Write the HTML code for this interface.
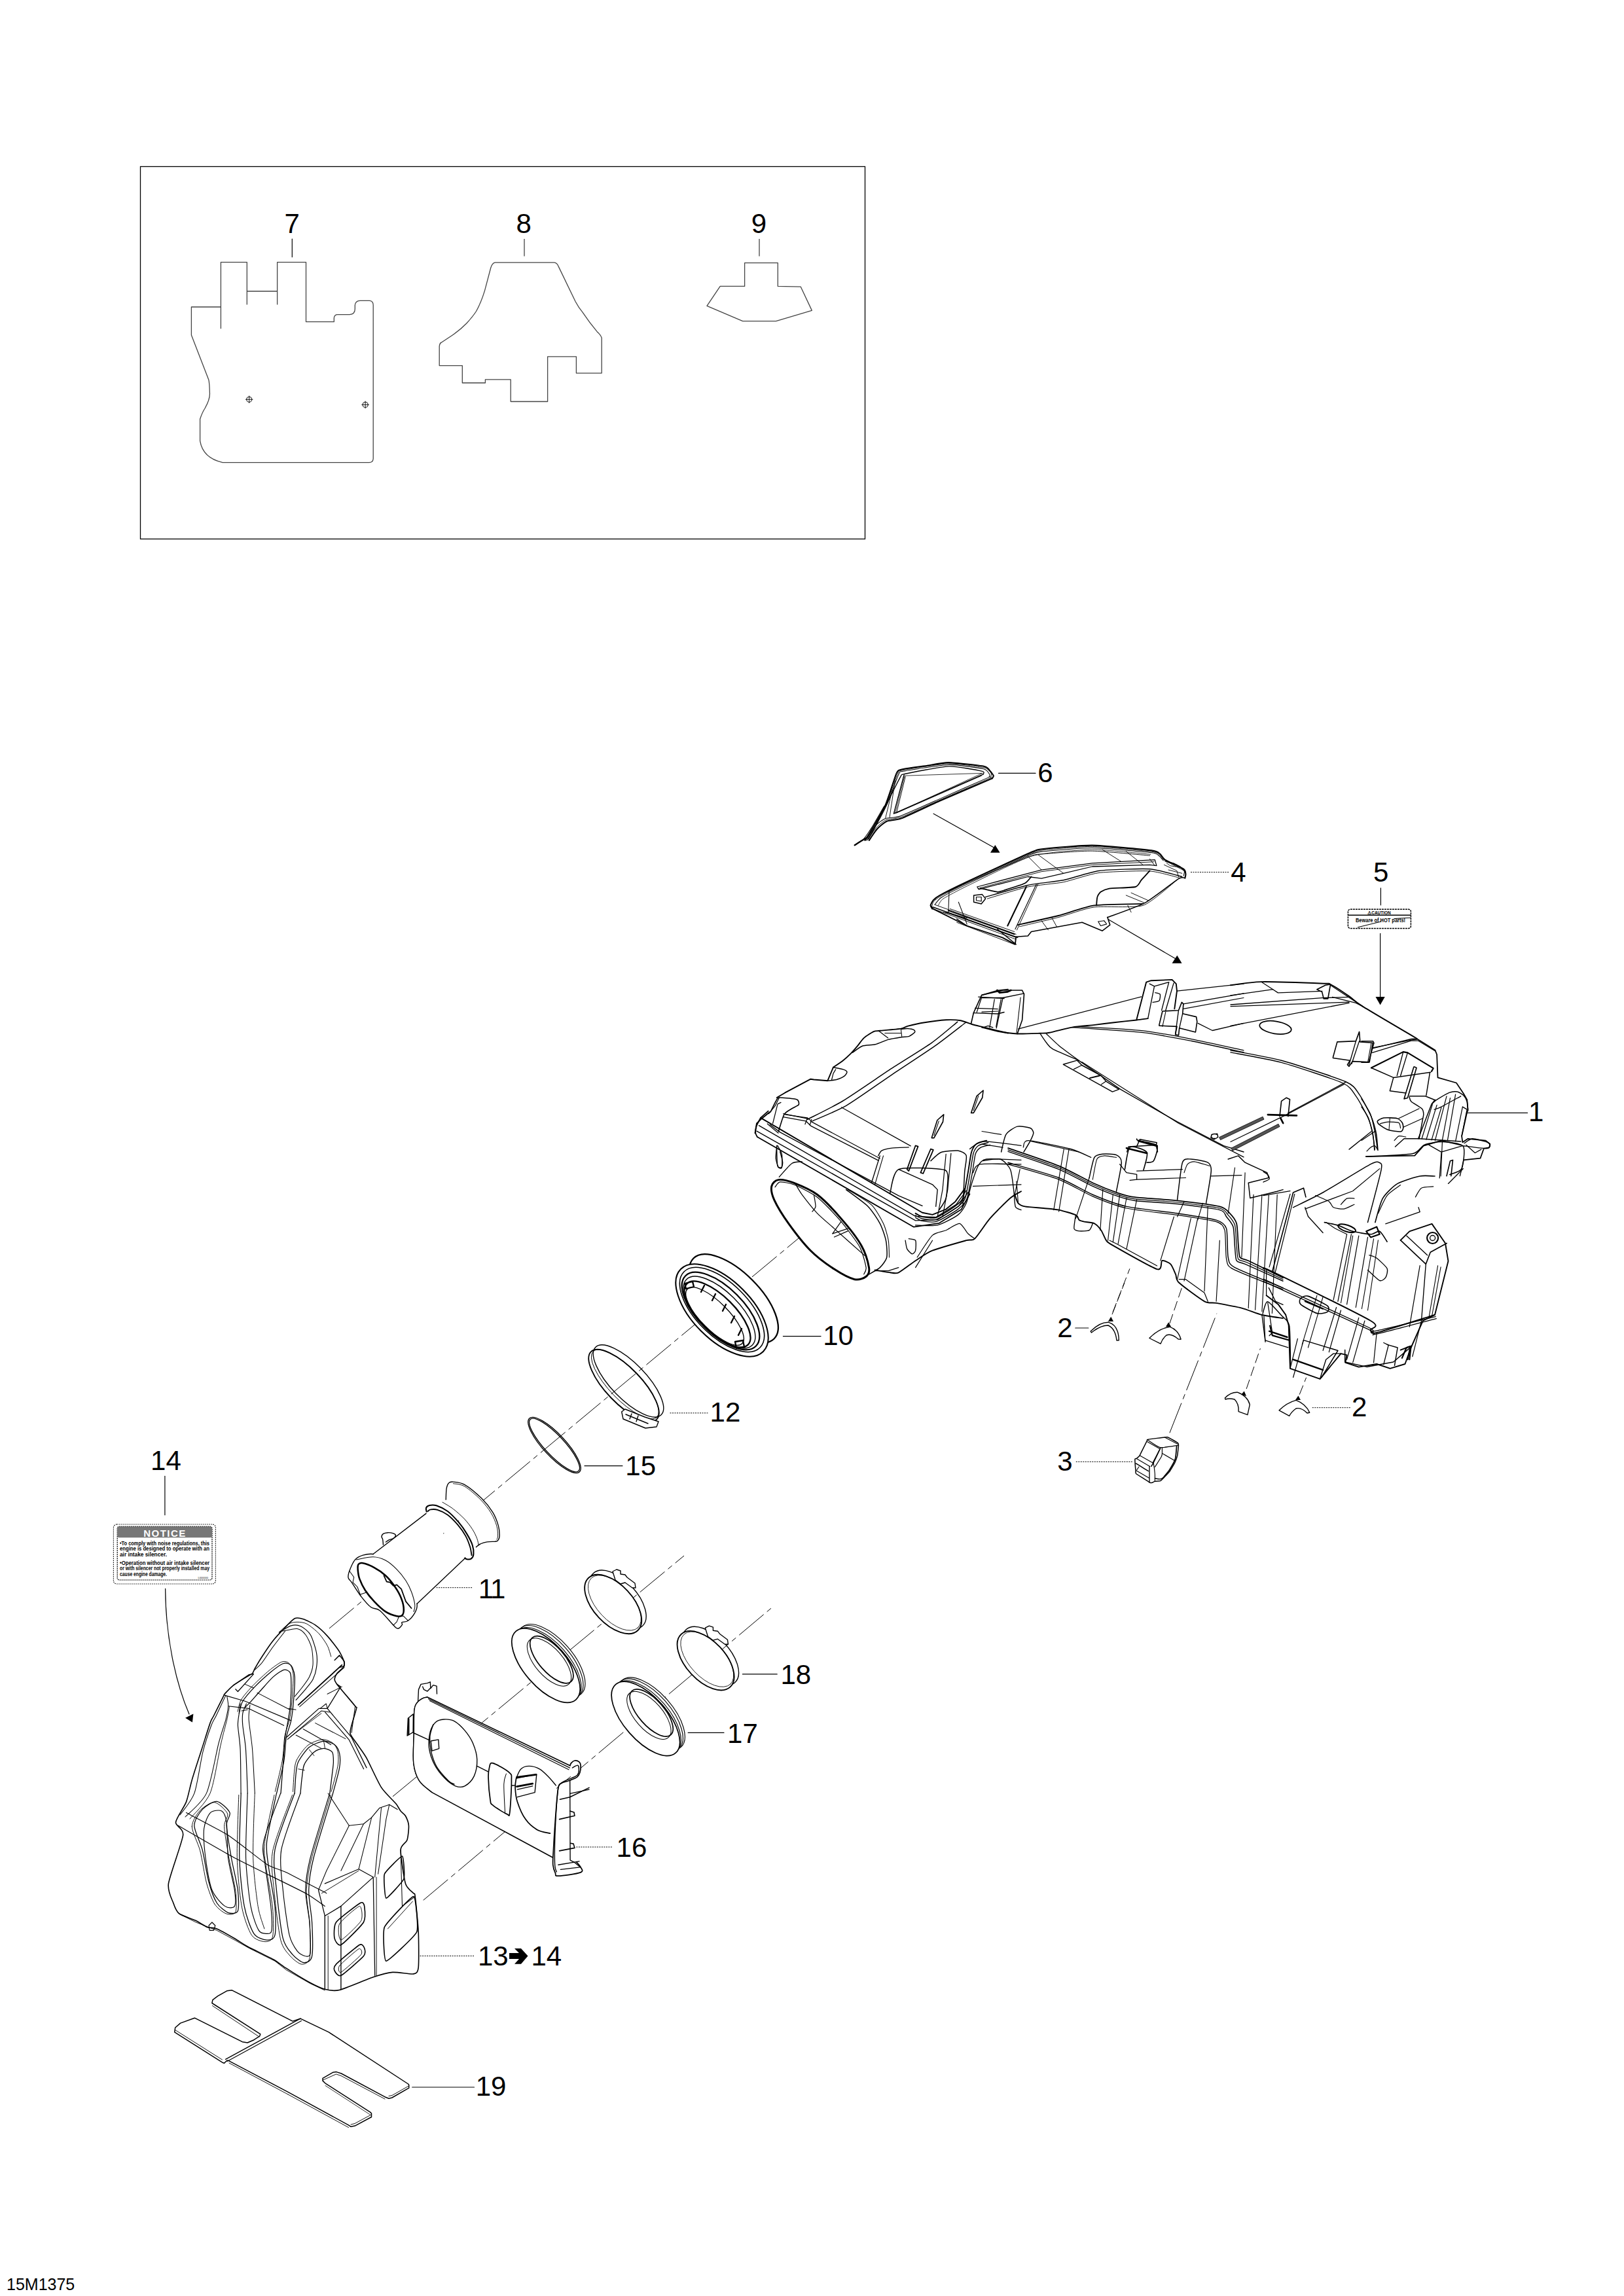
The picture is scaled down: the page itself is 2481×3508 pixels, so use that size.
<!DOCTYPE html>
<html><head><meta charset="utf-8"><title>15M1375</title>
<style>
html,body{margin:0;padding:0;background:#fff;}
body{width:2481px;height:3508px;overflow:hidden;position:relative;}
svg{position:absolute;left:0;top:0;}
text{font-family:"Liberation Sans",sans-serif;fill:#000;}
.l{fill:none;stroke:#000;stroke-linejoin:round;stroke-linecap:round;}
.l:not([stroke-width]){stroke-width:1.2}
.t{fill:none;stroke:#000;}
.t:not([stroke-width]){stroke-width:0.9}
.d{fill:none;stroke:#000;stroke-dasharray:14 10;}
.d:not([stroke-width]){stroke-width:1}
.dt{fill:none;stroke:#000;stroke-dasharray:2 1.5;}
.dt:not([stroke-width]){stroke-width:1}
.w{fill:#fff;stroke:#000;stroke-linejoin:round;}
.w:not([stroke-width]){stroke-width:1.2}
.f{fill:#000;stroke:none;}
.g{fill:none;stroke:#444;stroke-linejoin:round;}
.g:not([stroke-width]){stroke-width:1.3}
.parts .l:not([stroke-width]){stroke-width:1.38}.parts .w:not([stroke-width]){stroke-width:1.38}
</style></head>
<body>
<svg width="2481" height="3508" viewBox="0 0 2481 3508">
<rect x="0" y="0" width="2481" height="3508" fill="#fff"/>


<!-- ===== inset box with 7 8 9 ===== -->
<g id="inset">
<rect x="214.5" y="254.5" width="1107" height="569" fill="none" stroke="#000" stroke-width="1.3"/>
<text x="434.5" y="356" font-size="42">7</text>
<text x="788.4" y="355.5" font-size="42">8</text>
<text x="1147.7" y="355.7" font-size="42">9</text>
<path class="l" d="M446.3 365 V392.7"/>
<path class="g" d="M801 365 V391.4"/>
<path class="g" d="M1160 365 V391.6"/>
<!-- part 7 -->
<path class="g" d="M337.4 502.3 V400.6 H377.3 V465.4 M377.3 445 H423.6 M423.6 465.4 V400.6 H467.5 V491.7 H510.3 V485.7 Q510.8 480.6 515.9 480.6 H534.2 Q542.3 480 542.3 472 V466.4 Q543 459.3 550 459.3 H564.6 Q570.2 460 570.2 466 V701 Q569.7 706.6 564 706.6 H340 Q310 700 305.6 673.7 V640.2 Q309 630 313 624 Q321 610 320.4 600.5 Q320 585 318.8 580.2 L292.4 512 V469 H337.4"/>
<circle class="g" cx="380.7" cy="610.3" r="4"/><path class="t" d="M375 610.3 H386.4 M380.7 604.6 V616"/>
<circle class="g" cx="558.1" cy="618.4" r="4"/><path class="t" d="M552.4 618.4 H563.8 M558.1 612.7 V624.1"/>
<!-- part 8 -->
<path class="g" d="M756.2 401.2 H846.7 Q851 401.5 853.2 407.1 L879.1 460.7 Q884 470 890.2 477.3 Q900 492 912.3 506.9 Q918 512 919.2 516.1 V570.1 H880.4 V544.8 H836.6 V613.5 H780.2 V579.9 H741.4 V585 H706.3 V558.6 H671.2 V529 Q672 524 674 523.5 L690.6 512.5 Q703 504 712.8 494 Q722 484 727.6 475.5 Q735 462 740.5 444.1 L749.8 409 Q752 402 756.2 401.2 Z"/>
<!-- part 9 -->
<path class="g" d="M1137.6 437.4 V401.7 H1188.3 V437.4 L1223.3 438.2 L1240.3 474.4 L1185.6 490.6 H1134.6 L1080 467.4 L1100.2 437.4 Z"/>
</g>

<!-- ===== labels ===== -->
<g id="labels" font-size="42">
<text x="1585.3" y="1195.4">6</text>
<text x="1880.3" y="1346.5">4</text>
<text x="2097.9" y="1346.7">5</text>
<text x="2334.9" y="1712.9">1</text>
<text x="1257.2" y="2055.1">10</text>
<text x="1615.2" y="2043.1">2</text>
<text x="2064.9" y="2163.8">2</text>
<text x="1615.2" y="2246.5">3</text>
<text x="1084.6" y="2171.7">12</text>
<text x="955.3" y="2253.5">15</text>
<text x="230.1" y="2245.7">14</text>
<text x="730.8" y="2441.9" letter-spacing="-2">11</text>
<text x="1192.4" y="2573.1">18</text>
<text x="1111.1" y="2662.5">17</text>
<text x="941.6" y="2837.2">16</text>
<text x="726.7" y="3202">19</text>
<text x="729.9" y="3002.6">13</text>
<text x="811.5" y="3002.6">14</text>
<path class="f" d="M778 2984 H793 L786 2977 H796 L806.5 2988.5 L796 3000.8 H786 L793 2993 H778 Z"/>
<text x="10" y="3499" font-size="25">15M1375</text>
</g>

<!-- ===== leaders ===== -->
<g id="leaders">
<path class="l" d="M1525.5 1181.4 H1582"/>
<path class="dt" d="M1819 1332.6 H1877"/>
<path class="l" d="M2109.4 1356.9 V1382.8"/>
<path class="l" d="M2241 1700.3 H2333.6"/>
<path class="l" d="M1196.4 2041.7 H1254"/>
<path class="l" d="M1642.8 2029 H1662.8"/>
<path class="dt" d="M2004.8 2150.7 H2062.8"/>
<path class="dt" d="M1643.8 2233.4 H1730"/>
<path class="dt" d="M1023.5 2158.9 H1081.4"/>
<path class="l" d="M893 2239.7 H950.9"/>
<path class="l" d="M251.9 2255.4 V2314.7"/>
<path class="dt" d="M666.6 2425.7 H721.7"/>
<path class="l" d="M1134.4 2557.9 H1187.2"/>
<path class="l" d="M1051.1 2647.3 H1106"/>
<path class="dt" d="M880.4 2822 H935.3"/>
<path class="dt" d="M641.6 2988.4 H724"/>
<path class="l" d="M629.7 3189 H724.5"/>
</g>


<!-- ===== dashed centre lines ===== -->
<g id="axes" fill="none" stroke="#000" stroke-width="1" stroke-dasharray="49 6.5 8 6.5">
<path d="M503 2488 L1262 1857"/>
<path d="M646.7 2903.3 L1179.1 2456.3"/>
<path d="M600 2744.8 L1045 2377"/>
<path stroke-dasharray="15 6" d="M1700 2005 L1725.9 1938.4"/>
<path stroke-dasharray="15 6" d="M1699 2008.3 L1717.9 1960"/>
<path stroke-dasharray="15 6" d="M1786.9 2022.1 L1805.3 1968"/>
<path d="M1786.9 2189.3 L1858.9 2006.8"/>
<path stroke-dasharray="15 6" d="M1904.1 2122.1 L1925.4 2060.3"/>
<path stroke-dasharray="15 6" d="M1985.2 2130.7 L1995.6 2104.7"/>
</g>

<!-- ===== arrows ===== -->
<g id="arrows">
<path class="l" d="M1426.1 1243.2 L1520.3 1296"/>
<path class="f" d="M1520.3 1291 L1527.6 1302.8 L1513 1302.8 Z"/>
<path class="l" d="M1691.9 1404.1 L1798 1466"/>
<path class="f" d="M1798.3 1459.7 L1805.6 1471.8 L1790.5 1471.8 Z"/>
<path class="l" d="M2108.6 1426.3 V1530"/>
<path class="f" d="M2101.5 1523 H2115.7 L2108.6 1535.5 Z"/>
<path class="l" d="M252.6 2427.3 C253 2500 268 2570 289 2619"/>
<path class="f" d="M283.1 2624.7 L295.4 2618.6 L293.9 2631.5 Z"/>
</g>

<g class="parts"><!-- ===== part 2 clips ===== -->
<g id="p2">
<path class="w" d="M1666.2 2034.1 Q1680 2020 1693.8 2020.3 Q1709 2025 1709.3 2047.9 L1706 2048 Q1704 2030 1693 2025 Q1681 2025 1667.5 2036 Z"/>
<path class="f" d="M1697.2 2011.7 L1701 2019 L1693 2019 Z"/>
<path class="w" d="M1755.9 2044.5 Q1770 2030 1786.9 2027.2 Q1800 2032 1804.1 2046.2 L1800 2046 Q1790 2037 1782 2040 Q1776 2045 1773.1 2053.1 Z"/>
<path class="f" d="M1785.2 2020.3 L1789 2027 L1781 2027 Z"/>
<path class="w" d="M1871.4 2135.9 Q1880 2127 1890.3 2127.2 Q1906 2133 1909.3 2146.2 L1905.9 2161.7 L1892.1 2156.6 Q1893 2145 1886 2138 Q1878 2136 1872 2138 Z"/>
<path class="f" d="M1900.7 2125.5 L1904 2133 L1896 2131 Z"/>
<path class="w" d="M1954.1 2154.8 Q1966 2143 1980 2139.3 Q1995 2145 2000.7 2158.3 L1997 2159 Q1988 2150 1980 2152 Q1973 2157 1969.7 2163.4 Z"/>
<path class="f" d="M1983.4 2132.4 L1987 2139 L1979 2139 Z"/>
</g>

<!-- ===== part 3 ===== -->


<!-- ===== part 10 ring ===== -->
<g id="p10">
<ellipse class="w" cx="1121" cy="1984" rx="87" ry="40" transform="rotate(45 1121 1984)" stroke-width="2.30"/>
<ellipse class="w" cx="1103" cy="2002" rx="89" ry="45" transform="rotate(45 1103 2002)" stroke-width="2.07"/>
<ellipse class="l" cx="1103" cy="2001" rx="82" ry="40" transform="rotate(45 1103 2001)" stroke-width="1.61"/>
<ellipse class="l" cx="1101" cy="2003" rx="76" ry="35" transform="rotate(45 1101 2003)" stroke-width="2.30"/>
<ellipse class="l" cx="1099" cy="2005" rx="71" ry="31" transform="rotate(45 1099 2005)"/>
<ellipse class="l" cx="1096" cy="2008" rx="66" ry="27" transform="rotate(45 1096 2008)" stroke-width="2.30"/>
<ellipse class="l" cx="1092" cy="2011" rx="59" ry="21" transform="rotate(45 1092 2011)"/>
<path class="l" stroke-width="2.30" d="M1071 1974 L1076 1964 M1088 1987 L1093 1977 M1104 2003 L1109 1993 M1117 2021 L1122 2011 M1128 2040 L1133 2030 M1046 1961 L1058 1958 L1060 1966 L1048 1969 Z M1123 2050 L1135 2048 L1137 2058 L1125 2060 Z"/>
</g>

<!-- ===== part 12 clamp ===== -->
<g id="p12">
<ellipse class="l" cx="960" cy="2110" rx="72" ry="27" transform="rotate(46 960 2110)"/>
<ellipse class="l" cx="953" cy="2117" rx="72" ry="27" transform="rotate(46 953 2117)" stroke-width="1.84"/>
<ellipse class="l" cx="955" cy="2115" rx="70" ry="24" transform="rotate(46 955 2115)" stroke-width="0.92"/>
<path class="w" d="M949.7 2157 L955 2153 L985 2165 L1006 2172 L1003 2180 L986 2182 L952 2168 Z"/>
<path class="l" d="M956 2161 L990 2175 M965 2160 L962 2168 M975 2163 L972 2172"/>
</g>

<!-- ===== part 15 o-ring ===== -->
<g id="p15">
<ellipse class="l" cx="847" cy="2208" rx="56" ry="17" transform="rotate(47 847 2208)"/>
<ellipse class="l" cx="847" cy="2208" rx="54" ry="15" transform="rotate(47 847 2208)"/>
</g>

<!-- ===== grommets 17 ===== -->
<g id="p17a">
<ellipse class="w" cx="843" cy="2537" rx="68" ry="32" transform="rotate(48.7 843 2537)" stroke-width="1.15"/>
<ellipse class="l" cx="840" cy="2539" rx="68" ry="32" transform="rotate(48.7 840 2539)" stroke-width="1.15"/>
<ellipse class="l" cx="837" cy="2542" rx="68" ry="32" transform="rotate(48.7 837 2542)" stroke-width="1.15"/>
<ellipse class="w" cx="834" cy="2544.6" rx="69.5" ry="33" transform="rotate(48.7 834 2544.6)" stroke-width="1.72"/>
<ellipse class="l" cx="842.8" cy="2535.7" rx="44.8" ry="19.6" transform="rotate(48.7 842.8 2535.7)" stroke-width="1.72"/>
<ellipse class="l" cx="839" cy="2539.5" rx="45" ry="21" transform="rotate(48.7 839 2539.5)" stroke-width="1.03"/>
</g>
<g id="p17b">
<ellipse class="w" cx="995.4" cy="2618.3" rx="68" ry="32" transform="rotate(48.7 995.4 2618.3)" stroke-width="1.15"/>
<ellipse class="l" cx="992.4" cy="2620.3" rx="68" ry="32" transform="rotate(48.7 992.4 2620.3)" stroke-width="1.15"/>
<ellipse class="l" cx="989.4" cy="2623.3" rx="68" ry="32" transform="rotate(48.7 989.4 2623.3)" stroke-width="1.15"/>
<ellipse class="w" cx="986.4" cy="2625.9" rx="69.5" ry="33" transform="rotate(48.7 986.4 2625.9)" stroke-width="1.72"/>
<ellipse class="l" cx="995.2" cy="2617" rx="44.8" ry="19.6" transform="rotate(48.7 995.2 2617)" stroke-width="1.72"/>
<ellipse class="l" cx="991.4" cy="2620.8" rx="45" ry="21" transform="rotate(48.7 991.4 2620.8)" stroke-width="1.03"/>
</g>

<!-- ===== clamps 18 ===== -->
<g id="p18a">
<ellipse class="l" cx="944" cy="2444" rx="55" ry="29" transform="rotate(47 944 2444)"/>
<ellipse class="w" cx="936.7" cy="2451" rx="55" ry="30" transform="rotate(47 936.7 2451)" stroke-width="1.84"/>
<ellipse class="l" cx="939" cy="2449" rx="52" ry="27" transform="rotate(47 939 2449)" stroke-width="0.80"/>
<path class="w" d="M936 2401 L942 2398 L948 2400 L948 2405 L955 2406 L958 2410 L970 2419 L971 2426 L966 2426 L955 2418 L948 2420 L940 2414 Z"/>
</g>
<g id="p18b">
<ellipse class="l" cx="1085.4" cy="2530.2" rx="55" ry="29" transform="rotate(47 1085.4 2530.2)"/>
<ellipse class="w" cx="1078.1" cy="2537.2" rx="55" ry="30" transform="rotate(47 1078.1 2537.2)" stroke-width="1.84"/>
<ellipse class="l" cx="1080.4" cy="2535.2" rx="52" ry="27" transform="rotate(47 1080.4 2535.2)" stroke-width="0.80"/>
<path class="w" d="M1077.4 2487.2 L1083.4 2484.2 L1089.4 2486.2 L1089.4 2491.2 L1096.4 2492.2 L1099.4 2496.2 L1111.4 2505.2 L1112.4 2512.2 L1107.4 2512.2 L1096.4 2504.2 L1089.4 2506.2 L1081.4 2500.2 Z"/>
</g>

<g id="p11">
<path class="w" d="M554.5 2376.2 C559.1 2374.8 564.3 2373.9 570 2374.5 C575.7 2375.1 582.4 2376.2 589 2379.7 C595.6 2383.1 603.9 2389.7 609.7 2395.2 C615.4 2400.6 619.7 2406.7 623.4 2412.4 C627.2 2418.2 629.8 2423 632.1 2429.7 C634.4 2436.3 637 2446.3 637.2 2452.1 C637.5 2457.8 636.1 2460.1 633.8 2464.1 C631.5 2468.2 626.8 2473.8 623.4 2476.2 C620.1 2478.6 615.5 2477.8 614 2478.8 C612.5 2479.8 615.5 2480.7 614.5 2482.2 C613.5 2483.8 610.2 2488.1 607.9 2488.3 C605.7 2488.4 605.6 2487.7 601 2483.1 C596.4 2478.5 586.1 2465.3 580.3 2460.7 C574.6 2456.1 571.4 2459.3 566.6 2455.5 C561.7 2451.8 555.9 2444.6 551 2438.3 C546.1 2432 540.4 2422.2 537.2 2417.6 C534.1 2413 532.6 2413.6 532.1 2410.7 C531.5 2407.8 532.1 2404.9 533.8 2400.3 C535.5 2395.7 539 2387.1 542.4 2383.1 C545.9 2379.1 549.9 2377.6 554.5 2376.2 Z"/>
<path class="w" d="M651 2312.4 L709.7 2381.4 L637.2 2450.3 L570 2374.5 Z" style="stroke:none"/>
<path class="l" d="M651 2312.4 L570 2374.5"/>
<path class="l" d="M709.7 2381.4 L637.2 2450.3"/>
<path class="w" d="M681.2 2291.7 C681.4 2288.9 681.4 2278.8 682.1 2274.5 C682.8 2270.2 683.8 2267.6 685.5 2265.9 C687.2 2264.1 688.4 2263.7 692.4 2264.1 C696.4 2264.6 702.5 2264.3 709.7 2268.4 C716.8 2272.6 728.3 2282.1 735.5 2289.1 C742.7 2296.2 748.4 2303.6 752.8 2310.7 C757.1 2317.7 759.7 2325.3 761.4 2331.4 C763.1 2337.4 763.2 2343.2 763.1 2346.9 C763 2350.6 761.7 2352.4 760.5 2353.8 C759.4 2355.2 758.9 2354.8 756.2 2355.2 C753.5 2355.5 747.9 2355.2 744.1 2355.9 C740.4 2356.5 736.7 2357.6 733.8 2359 C730.9 2360.3 728 2363.3 726.9 2364.1"/>
<path class="l" d="M692.4 2266.7 C695.3 2267.4 702.8 2267 709.7 2271 C716.6 2275.1 727 2284.1 733.8 2290.9 C740.5 2297.6 746 2304.8 750.2 2311.6 C754.3 2318.3 757.1 2325.5 758.8 2331.4 C760.5 2337.3 760.5 2343.4 760.5 2346.9 C760.5 2350.3 759.1 2351.2 758.8 2352.1" stroke-width="0.92"/>
<path class="l" d="M676 2295.2 C678.8 2296.9 686.8 2301.2 692.4 2305.5 C698 2309.8 704.8 2315.9 709.7 2321 C714.5 2326.2 718.6 2331.7 721.7 2336.6 C724.9 2341.4 727 2346.3 728.6 2350.3 C730.2 2354.4 730.8 2359 731.2 2360.7" stroke-width="0.92"/>
<path class="w" d="M651.9 2310.7 C651.8 2309.5 650.3 2305.6 651 2303.8 C651.8 2302 653.6 2300.6 656.2 2300 C658.8 2299.4 662 2298.9 666.6 2300.3 C671.1 2301.8 678 2304.7 683.8 2309 C689.5 2313.3 696.1 2320.5 701 2326.2 C705.9 2332 709.7 2337.7 713.1 2343.4 C716.6 2349.2 720 2355.5 721.7 2360.7 C723.4 2365.9 723.7 2371 723.4 2374.5 C723.2 2377.9 721.7 2380.1 720 2381.4 C718.3 2382.7 714.8 2382.5 713.1 2382.2 C711.4 2382 710.2 2380.1 709.7 2379.7" stroke-width="2.07"/>
<path class="l" d="M653.6 2309 C654.3 2308.5 655.5 2306.7 657.9 2306.4 C660.4 2306 664 2305.5 668.3 2306.9 C672.6 2308.2 678.6 2310.7 683.8 2314.5 C689 2318.3 694.7 2324.3 699.3 2329.7 C703.9 2335.1 708.2 2341.1 711.4 2346.9 C714.5 2352.6 716.8 2359.3 718.3 2364.1 C719.8 2369 720.1 2374.2 720.5 2376.2" stroke-width="1.84"/>
<path class="w" d="M585.5 2360.7 C585.4 2359.3 585.1 2354.2 584.7 2352.1 C584.2 2349.9 582.8 2349.2 582.9 2347.8 C583.1 2346.3 583.9 2344.5 585.5 2343.4 C587.1 2342.4 590 2341.9 592.4 2341.7 C594.9 2341.6 598.2 2342 600.2 2342.6 C602.2 2343.2 604.3 2344.2 604.5 2345.5 C604.6 2346.8 602.8 2349.1 601 2350.3 C599.3 2351.6 596.1 2351.9 594.1 2352.9 C592.1 2353.9 589.8 2355.8 589 2356.4"/>
<path class="l" d="M544.1 2383.1 C548.4 2382.4 562.5 2378.6 570 2378.8 C577.5 2378.9 582.9 2380.8 589 2384 C595 2387.1 601 2392.6 606.2 2397.8 C611.4 2402.9 616.3 2409.3 620 2415 C623.7 2420.7 626.3 2426.1 628.6 2432.2 C630.9 2438.4 633.2 2447 633.8 2452.1 C634.4 2457.1 632.4 2460.7 632.1 2462.4" stroke-width="1.03"/>
<path class="l" d="M547.6 2390 C548.9 2388.3 550.5 2387.4 554.5 2388.3 C558.5 2389.1 566 2392 571.7 2395.2 C577.5 2398.3 584.1 2402.9 589 2407.2 C593.9 2411.6 597.3 2415.9 601 2421 C604.8 2426.2 608.8 2432.5 611.4 2438.3 C614 2444 616 2450.6 616.6 2455.5 C617.1 2460.4 616.6 2465.3 614.8 2467.6 C613.1 2469.9 610.5 2470.2 606.2 2469.3 C601.9 2468.4 594.7 2466.1 589 2462.4 C583.2 2458.7 576.9 2452.4 571.7 2446.9 C566.6 2441.4 561.7 2435.4 557.9 2429.7 C554.2 2423.9 551.2 2417.6 549.3 2412.4 C547.4 2407.2 547 2402.4 546.7 2398.6 C546.4 2394.9 546.3 2391.7 547.6 2390 Z" stroke-width="2.53"/>
<path class="l" d="M586.4 2407.2 L590.7 2416.7 L595.9 2417.6 L601 2422.8 L606.2 2421.4 L613.1 2427.9 L620 2446.9 L628.6 2457.2" stroke-width="1.72"/>
<path class="l" d="M533.8 2400.3 L540.7 2409.8 L539 2417.6 L545.9 2424.5 L551 2438.3" stroke-width="1.03"/>
<path class="l" d="M549.3 2436.6 L559.7 2433.1 L564.8 2440 L571.7 2446.9" stroke-width="1.03"/>
<path class="l" d="M601 2483.1 L606.2 2477.9 L609.7 2469.3 L616.6 2469.3 L623.4 2476.2" stroke-width="1.03"/>
</g>
<g id="p16">
<path class="w" d="M638.6 2599.3 L639.5 2581.4 L643 2573.4 L652.9 2571.6 L657.3 2569.8 L657.9 2579.6 L661.8 2574.6 L667.1 2576.1 L667.5 2588.6"/>
<path class="l" d="M645.7 2577 L647.5 2581.4 L652.9 2584.1 L657.3 2579.6"/>
<path class="w" d="M652.9 2593 C651.7 2593.3 648.4 2593.3 645.7 2594.8 C643 2596.3 638.9 2598.8 636.8 2602 C634.6 2605.1 633.6 2605.7 632.9 2613.6 C632.1 2621.5 632.5 2635.9 632.3 2649.3 C632.1 2662.7 630.4 2682 631.8 2693.9 C633.1 2705.8 635.7 2713.3 640.4 2720.7 C645.1 2728.2 656.7 2735.6 660 2738.6 "/>
<path class="w" d="M652.9 2593 L872.5 2701.1 L849.3 2731.4 L843.9 2837.7 L660 2738.6 M660 2738.6 C656.7 2735.6 645.1 2728.2 640.4 2720.7 C635.7 2713.3 633.1 2705.8 631.8 2693.9 C630.4 2682 632.1 2662.7 632.3 2649.3 C632.5 2635.9 632.1 2621.5 632.9 2613.6 C633.6 2605.7 634.6 2605.1 636.8 2602 C638.9 2598.8 643 2596.3 645.7 2594.8 C648.4 2593.3 651.7 2593.3 652.9 2593" style="stroke:none"/>
<path class="l" d="M660 2738.6 C656.7 2735.6 645.1 2728.2 640.4 2720.7 C635.7 2713.3 633.1 2705.8 631.8 2693.9 C630.4 2682 632.1 2662.7 632.3 2649.3 C632.5 2635.9 632.1 2621.5 632.9 2613.6 C633.6 2605.7 634.6 2605.1 636.8 2602 C638.9 2598.8 643 2596.3 645.7 2594.8 C648.4 2593.3 651.7 2593.3 652.9 2593"/>
<path class="l" d="M660 2738.6 L843.9 2837.7" stroke-width="1.61"/>
<path class="l" d="M652.9 2593 L872.5 2698.4" stroke-width="1.61"/>
<path class="l" d="M654.6 2595.7 L870.7 2701.1" stroke-width="1.26"/>
<path class="l" d="M656.4 2598.4 L868.9 2703.8" stroke-width="1.15"/>
<path class="w" d="M631.4 2618.9 L623.4 2625.2 L622.1 2652 L631.1 2646.6 Z"/>
<path class="l" d="M624.3 2626.1 L624.3 2650.2" stroke-width="2.30"/>
<path class="l" d="M677.9 2627 C682.6 2626.7 688.6 2626.8 693.9 2629.6 C699.3 2632.5 705.2 2638.3 710 2643.9 C714.8 2649.6 719.4 2656.1 722.5 2663.6 C725.6 2671 728.5 2680.2 728.8 2688.6 C729 2696.9 727.4 2706.9 724.3 2713.6 C721.2 2720.3 714.8 2726.2 710 2728.8 C705.2 2731.3 700.8 2730.7 695.7 2728.8 C690.7 2726.8 685 2722.6 679.6 2717.1 C674.3 2711.6 667.6 2703.5 663.6 2695.7 C659.6 2688 656.6 2679 655.5 2670.7 C654.5 2662.4 655.7 2652.3 657.3 2645.7 C659 2639.2 661.9 2634.6 665.4 2631.4 C668.8 2628.3 673.1 2627.3 677.9 2627 Z"/>
<path class="l" d="M661.8 2635 C661 2638 657.4 2646.3 656.8 2652.9 C656.2 2659.4 656.5 2666.5 658.2 2674.3 C659.9 2682 662.7 2691.5 667.1 2699.3 C671.6 2707 680.5 2716.2 685 2720.7 C689.5 2725.2 692.4 2725.2 693.9 2726.1"/>
<path class="w" d="M658.2 2660 L669.8 2657.9 L670.7 2671.6 L660 2675.2 L658.2 2660"/>
<path class="l" d="M631.4 2647.5 L654.6 2658.2"/>
<path class="l" d="M728.8 2698.4 L745.7 2706.8"/>
<path class="l" d="M748.4 2715.4 C752.1 2717.3 764.3 2724.9 770.7 2727 C777.1 2729 784.1 2727.7 786.8 2727.9"/>
<path class="w" d="M752.9 2693.9 C757.9 2695.1 773.1 2703.8 777.9 2708.2 C782.6 2712.7 781.3 2710.6 781.4 2720.7 C781.6 2730.8 779.9 2760.4 778.8 2768.9 C777.6 2777.4 778.6 2773.4 774.3 2771.6 C770 2769.8 757.1 2761.9 752.9 2758.2 C748.6 2754.5 750.1 2756.1 748.9 2749.3 C747.8 2742.4 746.3 2725.2 746.1 2717.1 C745.8 2709.1 746.4 2704.9 747.5 2701.1 C748.6 2697.2 747.8 2692.7 752.9 2693.9 Z" stroke-width="1.72"/>
<path class="l" d="M773.4 2710 C772.8 2712.7 770.1 2716 769.8 2726.1 C769.5 2736.2 771.3 2763.3 771.6 2770.7" stroke-width="1.03"/>
<path class="l" d="M788.6 2717.1 C789.8 2714.8 792.4 2706 795.7 2702.9 C799 2699.7 803.5 2698.4 808.2 2698.4 C813 2698.4 819.2 2700 824.3 2702.9 C829.3 2705.7 834.4 2711.2 838.6 2715.4 C842.7 2719.5 847.5 2725.8 849.3 2727.9"/>
<path class="l" d="M788.6 2717.1 C788.3 2719.5 786.8 2725.5 787.1 2731.4 C787.4 2737.4 787.7 2744.8 790.4 2752.9 C793 2760.9 797.8 2772.5 802.9 2779.6 C807.9 2786.8 814.5 2792.1 820.7 2795.7 C827 2799.3 837.1 2800.2 840.4 2801.1" stroke-width="1.72"/>
<path class="l" d="M788.6 2717.1 L819.8 2710.9 L817.1 2738.6 L790.4 2745.7" stroke-width="1.38"/>
<path class="l" d="M789.5 2715.4 L818.9 2711.4" stroke-width="2.88"/>
<path class="l" d="M789.5 2729.6 L813.6 2725.2" stroke-width="2.88"/>
<path class="l" d="M790.4 2734.1 L813.6 2728.8"/>
<path class="w" d="M870.7 2698.4 C871 2697.6 871.3 2695.3 872.5 2693.9 C873.7 2692.5 875.8 2690.3 877.9 2690 C879.9 2689.7 883.5 2690.9 885 2692.1 C886.5 2693.4 887 2694.8 887.1 2697.5 C887.3 2700.2 886.8 2705.2 885.9 2708.2 C884.9 2711.2 884.3 2713.3 881.4 2715.4 C878.6 2717.4 872.8 2719.2 868.9 2720.7 C865.1 2722.2 860.8 2722.8 858.2 2724.3 C855.6 2725.8 854.6 2724.3 853.2 2729.6 C851.9 2735 851.5 2740.1 850.2 2756.4 C848.9 2772.8 846.2 2812.4 845.4 2827.9 C844.5 2843.3 844.3 2843.6 844.8 2849.3 C845.3 2854.9 847.1 2859 848.4 2861.8 C849.7 2864.6 846.5 2866.4 852.9 2866.2 C859.3 2866.1 881.1 2863.1 886.8 2860.9 C892.5 2858.7 888.2 2855.5 887.1 2852.9 C886.1 2850.2 881.6 2846.2 880.5 2844.8" stroke-width="1.72"/>
<path class="l" d="M874.3 2701.1 C875.8 2700.5 881.9 2695.7 883.2 2697.5 C884.6 2699.3 885.3 2708.1 882.3 2711.8 C879.3 2715.5 869.8 2717.4 865.4 2719.8 C860.9 2722.2 857.8 2722.9 855.5 2726.1 C853.3 2729.2 853.2 2727.6 852 2738.6 C850.8 2749.6 849.1 2774.3 848.4 2792.1 C847.6 2810 847.2 2834.4 847.5 2845.7 C847.8 2857 849.7 2857.6 850.2 2860"/>
<path class="l" d="M870.7 2720.7 L871.1 2842.1 L877.9 2845.7 L886.8 2852.9"/>
<path class="l" d="M855.5 2749.3 L870.7 2745.7 L900 2731.4" stroke-width="1.61"/>
<path class="l" d="M870.7 2740.4 L900 2734.1"/>
<path class="l" d="M854.6 2779.6 L877.9 2774.3 L877 2768.9 L870.7 2767.1" stroke-width="1.61"/>
<path class="l" d="M854.6 2827.9 L877.9 2823.4 L876.1 2817.1 L871.6 2816.2" stroke-width="1.61"/>
<path class="l" d="M852.9 2849.3 L885 2843.9"/>
<path class="l" d="M856.4 2856.4 L885.9 2852.9"/>
</g>
<g id="p19">
<path class="w" d="M323.9 3060.5 L324.9 3055.6 L332.8 3049.7 L346.6 3041.8 L354.4 3040.8 L447 3088.1 L458.9 3084.2 L502.2 3104.9 L623.5 3184 L624.7 3185.5 L624.7 3190.2 L598.9 3205 L594 3206.2 L587.8 3203.7 L521.3 3168 L513.9 3165.6 L509 3166.2 L493 3175.4 L493 3179.1 L496.7 3182.8 L565.6 3227.1 L567.5 3229 L567.5 3234.5 L542.2 3248.1 L536.1 3249.3 L532.4 3246.8 L440 3196.4 L348.5 3148.2 L346.6 3148.2 L342.6 3152.2 L339.7 3151.2 L266.7 3104.9 L267.7 3098 L275.6 3091.1 L297.3 3083.2 L370.2 3119.7 L378.1 3121 L387.9 3116.7 L396.8 3110.8 L397.8 3107.8 Z" stroke-width="1.49"/>
<path class="l" d="M344.6 3146.3 L458.9 3084.2" stroke-width="1.38"/>
<path class="l" d="M347 3149.5 L460.5 3087.5" stroke-width="1.15"/>
<path class="l" d="M324.5 3064.5 L396 3112" stroke-width="0.92"/>
<path class="l" d="M267.5 3101.5 L339.5 3147" stroke-width="0.92"/>
<path class="l" d="M350 3152 L440 3200" stroke-width="0.92"/>
<path class="l" d="M440 3200 L532.5 3250.5" stroke-width="0.92"/>
<path class="l" d="M497 3186.5 L565.5 3231" stroke-width="0.80"/>
<path class="l" d="M493.5 3178 L513.5 3169 L521 3171.5 L588 3207" stroke-width="0.92"/>
<path class="l" d="M536 3246 L542 3244.5 L567 3231" stroke-width="0.92"/>
<path class="l" d="M594 3202.5 L599 3201.5 L624.5 3187" stroke-width="0.92"/>
</g>
<g id="stk5">
<rect x="2059.4" y="1389.2" width="96" height="29.3" rx="3.5" fill="#fff" stroke="#000" stroke-width="1.49" stroke-dasharray="3 1"/>
<path class="l" d="M2060 1398.3 H2155"/>
<text x="2107" y="1397" font-size="6.5" font-weight="bold" text-anchor="middle">&#9888;CAUTION</text>
<text x="2109" y="1408.6" font-size="8.5" font-weight="bold" text-anchor="middle" textLength="76" lengthAdjust="spacingAndGlyphs">Beware of HOT parts!</text>
<path class="l" d="M2074.5 1416.8 L2110 1408 M2130 1403.5 L2154.7 1402.2" stroke-width="1.15"/>
</g>
<g id="stk14">
<rect x="173.4" y="2329" width="156" height="91" rx="5" fill="#fff" stroke="#000" stroke-width="1.15" stroke-dasharray="1.5 1.5"/>
<rect x="179.2" y="2332.4" width="144.8" height="81.6" rx="3" fill="#fff" stroke="#000" stroke-width="1.15" stroke-dasharray="2 1"/>
<rect x="179.2" y="2332.4" width="144.8" height="16.9" rx="3" fill="#777"/>
<text x="252" y="2347.5" font-size="15" font-weight="bold" fill="#fff" text-anchor="middle" style="fill:#fff" letter-spacing="1.5">NOTICE</text>
<text x="183" y="2360.5" font-size="8.2" font-weight="bold" fill="#222" textLength="137" lengthAdjust="spacingAndGlyphs">•To comply with noise regulations, this</text>
<text x="183" y="2369.3" font-size="8.2" font-weight="bold" fill="#222" textLength="137" lengthAdjust="spacingAndGlyphs">engine is designed to operate with an</text>
<text x="183" y="2377.9" font-size="8.2" font-weight="bold" fill="#222" textLength="72.0" lengthAdjust="spacingAndGlyphs">air intake silencer.</text>
<text x="183" y="2390.5" font-size="8.2" font-weight="bold" fill="#222" textLength="137" lengthAdjust="spacingAndGlyphs">•Operation without air intake silencer</text>
<text x="183" y="2399" font-size="8.2" font-weight="bold" fill="#222" textLength="137" lengthAdjust="spacingAndGlyphs">or with silencer not properly installed may</text>
<text x="183" y="2407.7" font-size="8.2" font-weight="bold" fill="#222" textLength="72.0" lengthAdjust="spacingAndGlyphs">cause engine damage.</text>
<text x="318" y="2412" font-size="4" text-anchor="end">L000000</text>
</g>
<g id="p6">
<path class="w" d="M1304.7 1290.3 L1321.4 1281.9 L1369.6 1181.4 L1377.9 1176.2 L1449.1 1165.7 L1503.6 1172 L1517.2 1184.5 L1515.1 1188.7 L1375.8 1249.5 L1354.9 1254.7 L1340.3 1267.3 L1325.6 1284 Z" style="stroke:none"/>
<path class="l" d="M1305.7 1291.3 C1307.6 1290.1 1314.1 1285.9 1317.2 1284 C1320.4 1282.1 1323.3 1280.5 1324.5 1279.8" stroke-width="2.30"/>
<path class="l" d="M1321.4 1284 C1322.5 1282.3 1328.7 1272.7 1331.9 1267.3 C1335 1261.8 1349 1238.1 1352.8 1229.6 C1356.6 1221 1367.1 1186.8 1369.6 1181.4 C1372.1 1176 1373.3 1176.7 1377.9 1175.5 C1382.5 1174.4 1408.5 1170.9 1415.6 1169.9 C1422.7 1168.8 1440.3 1165 1449.1 1165.1 C1457.9 1165.2 1497.3 1169.7 1503.6 1170.9 C1509.8 1172.2 1510.5 1175.8 1511.9 1177.2 C1513.4 1178.6 1517.4 1184 1517.8 1185.2 C1518.2 1186.4 1515.9 1188.9 1515.7 1189.4" stroke-width="2.07"/>
<path class="l" d="M1324.5 1284 C1325.6 1282.3 1332 1272.7 1335 1267.3 C1338.1 1261.8 1351.1 1237.9 1354.9 1229.6 C1358.7 1221.2 1370.2 1188.6 1372.7 1183.5 C1375.2 1178.4 1372.4 1179.8 1380 1178.3 C1387.7 1176.8 1436.9 1168.8 1449.1 1168.4 C1461.4 1168.1 1496.2 1173.2 1502.5 1174.7 C1508.8 1176.2 1511.1 1182.2 1511.9 1183.5 C1512.8 1184.8 1511 1186.9 1510.9 1187.3" stroke-width="1.03"/>
<path class="l" d="M1326.6 1281.9 C1327.7 1280 1333.9 1269.3 1337.1 1263.1 C1340.4 1256.8 1355.2 1226.7 1359.1 1219.1 C1363 1211.5 1373.5 1190.3 1375.8 1186.6 C1378.1 1183 1374.8 1184 1382.1 1182.5 C1389.5 1180.9 1437.3 1171.4 1449.1 1170.9 C1461 1170.5 1495.2 1177.1 1500.4 1178.3 C1505.7 1179.5 1501.7 1182.6 1501.9 1183.1" stroke-width="1.38"/>
<path class="l" d="M1501.9 1183.1 L1365.4 1243.2 L1381.1 1183.9" stroke-width="1.38"/>
<path class="l" d="M1499.4 1185.2 L1369.6 1242.1 L1383.2 1186.6" stroke-width="0.92"/>
<path class="l" d="M1515.7 1189.4 C1507.8 1192.8 1450.3 1217.2 1436.6 1223.3 C1422.8 1229.4 1386.1 1246.9 1377.9 1250.1 C1369.8 1253.2 1358.7 1253.1 1354.9 1254.7 C1351.1 1256.3 1343 1263.3 1340.3 1266.2 C1337.5 1269.1 1328.9 1282.2 1327.7 1284" stroke-width="2.07"/>
<path class="l" d="M1513 1186.6 C1505.3 1190 1450.3 1214.1 1436.6 1220.1 C1422.9 1226.2 1384.2 1243.7 1375.8 1246.7 C1367.5 1249.8 1356.6 1249.1 1352.8 1250.5 C1349 1251.9 1340.9 1258 1338.2 1261 C1335.4 1263.9 1326.9 1277.9 1325.6 1279.8" stroke-width="1.03"/>
<path class="l" d="M1359.1 1248.4 L1367.5 1191.9" stroke-width="0.92"/>
<path class="l" d="M1352.8 1249.5 L1363.3 1206.5" stroke-width="0.92"/>
<path class="l" d="M1323.1 1284 C1324.1 1282.3 1330.5 1272.7 1333.6 1267.3 C1336.6 1261.8 1350.1 1238 1353.9 1229.6 C1357.6 1221.1 1368.7 1187.7 1371.2 1182.5 C1373.8 1177.2 1371.2 1178.4 1379 1176.8 C1386.8 1175.2 1436.7 1167.1 1449.1 1166.8 C1461.5 1166.4 1496.7 1171.4 1503.1 1172.8 C1509.6 1174.2 1513 1179.5 1514 1181 C1515.1 1182.5 1513.7 1187.4 1513.6 1188.1" stroke-width="0.92"/>
<path class="l" d="M1514.5 1188.1 C1506.7 1191.5 1450.3 1215.8 1436.6 1221.8 C1422.8 1227.8 1385.2 1245.3 1376.9 1248.4 C1368.6 1251.5 1357.6 1251 1353.9 1252.6 C1350.1 1254.2 1341.9 1261.2 1339.2 1264.1 C1336.5 1267 1327.9 1280.1 1326.6 1281.9" stroke-width="0.92"/>
<path class="l" d="M1500.6 1181.4 L1367.5 1242.8 L1382.1 1185.2 L1500.6 1181.4" stroke-width="0.80"/>
<path class="l" d="M1306.8 1290.7 C1308 1289.8 1316.8 1284.6 1319.3 1281.9 C1321.8 1279.3 1328.7 1269.1 1331.9 1264.1 C1335 1259.1 1348.8 1234.9 1350.7 1231.7" stroke-width="1.03"/>
</g>
<g id="p4">
<path class="w" d="M1421.6 1383.4 L1435.9 1367.9 L1474.7 1348.5 L1575.5 1302 L1596.2 1296.8 L1668.6 1291.6 L1759.1 1299.4 L1772.1 1304.6 L1779.8 1313.6 L1808.3 1327.8 L1810.9 1340.8 L1800.5 1342.1 L1748.8 1379.6 L1691.9 1401.6 L1695.8 1413.2 L1684.1 1422.2 L1653.1 1409.3 L1575.5 1423.5 L1570.3 1430 L1552.2 1431.3 L1550.9 1442.9 L1531.6 1432.6 L1477.2 1414.5 L1425.5 1388.6 Z" style="stroke:none"/>
<path class="l" d="M1424.2 1388.6 C1424 1388.1 1421.5 1384.7 1421.6 1383.4 C1421.8 1382.2 1424.1 1377.2 1425.5 1375.7 C1426.9 1374.1 1430.9 1370.6 1435.9 1367.9 C1440.8 1365.2 1460.7 1355.1 1474.7 1348.5 C1488.6 1341.9 1563.4 1307.2 1575.5 1302 C1587.7 1296.8 1586.9 1297.8 1596.2 1296.8 C1605.5 1295.8 1652.3 1291.4 1668.6 1291.6 C1684.9 1291.9 1748.8 1298.1 1759.1 1299.4 C1769.5 1300.7 1770 1303.1 1772.1 1304.6 C1774.1 1306 1776.2 1311.3 1779.8 1313.6 C1783.4 1315.9 1805.1 1325.6 1808.3 1327.8 C1811.4 1330 1811.2 1334.2 1811.4 1335.6 C1811.6 1337 1810.4 1341 1810.3 1341.6" stroke-width="2.07"/>
<path class="l" d="M1428.1 1382.2 C1429.1 1381 1433.5 1374.1 1438.4 1371 C1443.4 1367.9 1463.5 1357.7 1477.2 1351.1 C1490.9 1344.6 1563.6 1310.4 1575.5 1305.3 C1587.4 1300.3 1586.9 1301.7 1596.2 1300.7 C1605.5 1299.7 1652.3 1295.3 1668.6 1295.5 C1684.9 1295.7 1748.9 1301.5 1759.1 1302.8 C1769.4 1304 1769 1306.7 1770.8 1307.9 C1772.6 1309.1 1776.6 1314.2 1777.2 1314.9" stroke-width="1.03"/>
<path class="l" d="M1448.8 1362.8 C1451.9 1361.3 1467.4 1353.2 1479.8 1347.8 C1492.2 1342.3 1561.3 1312.8 1572.9 1308.4 C1584.6 1304.1 1586.6 1305.4 1596.2 1304.6 C1605.8 1303.7 1652.6 1299.9 1668.6 1300.2 C1684.7 1300.4 1747.8 1306.5 1756.5 1307.2" stroke-width="0.92"/>
<path class="l" d="M1810.3 1341.6 C1809.4 1341.7 1806.7 1338.8 1800.5 1342.6 C1794.4 1346.4 1759.7 1373.7 1748.8 1379.6 C1737.9 1385.5 1697.6 1399.4 1691.9 1401.6" stroke-width="1.61"/>
<path class="l" d="M1691.9 1401.6 L1695.8 1413.2 L1684.1 1422.2 L1653.1 1409.3 L1575.5 1423.5 L1570.3 1430 L1552.2 1431.3" stroke-width="1.61"/>
<path class="l" d="M1552.2 1431.3 L1550.9 1442.9 L1531.6 1432.6 L1477.2 1414.5 L1425.5 1388.6 L1422.9 1384.7" stroke-width="1.84"/>
<path class="l" d="M1492.8 1355 L1591 1329.1 L1668.6 1318.8 L1764.3 1313.6 L1766.9 1322.7 L1756.5 1321.4 L1668.6 1324 L1624.7 1334.3 L1591 1342.1 L1570.3 1339.5 L1495.3 1358.9 L1492.8 1355" stroke-width="1.26"/>
<path class="l" d="M1505.7 1370.5 C1512.2 1368.7 1558.4 1355 1570.3 1352.4 C1582.2 1349.8 1613.8 1346.9 1624.7 1344.7 C1635.5 1342.5 1665.8 1332.1 1679 1330.4 C1692.2 1328.7 1743.9 1326.9 1756.5 1327.8 C1769.2 1328.7 1800.8 1338.3 1805.7 1339.5" stroke-width="1.49"/>
<path class="l" d="M1497.9 1357.1 C1500.5 1357.6 1520.2 1362.4 1523.8 1362.8 C1527.4 1363.1 1530 1361.5 1534.1 1360.2 C1538.3 1358.9 1561 1351.9 1565.2 1349.8 C1569.3 1347.8 1574.5 1340.5 1575.5 1339.5" stroke-width="1.72"/>
<path class="l" d="M1539.3 1414.5 L1567.8 1355" stroke-width="2.07"/>
<path class="l" d="M1550.9 1419.7 L1583.3 1351.1" stroke-width="1.15"/>
<path class="l" d="M1553.5 1420.9 L1585.9 1350.3" stroke-width="0.92"/>
<path class="l" d="M1554.8 1413.2 C1561 1411.8 1605.3 1401.9 1616.9 1399 C1628.5 1396 1658.3 1385.3 1671.2 1383.4 C1684.1 1381.6 1738.7 1381.1 1746.2 1380.9" stroke-width="1.84"/>
<path class="l" d="M1756.5 1330.4 C1755.3 1331.9 1745.8 1342.2 1743.6 1344.7 C1741.4 1347.1 1739.5 1353.7 1734.6 1355 C1729.7 1356.3 1699.8 1356.8 1694.5 1357.6 C1689.2 1358.4 1683.4 1361.5 1681.5 1362.8 C1679.7 1364.1 1677 1368.4 1676.4 1370.5 C1675.7 1372.6 1675.2 1382.2 1675.1 1383.4" stroke-width="1.84"/>
<path class="l" d="M1720.3 1367.9 L1748.8 1379.6" stroke-width="0.92"/>
<path class="l" d="M1728.1 1364.1 L1754 1375.7" stroke-width="0.92"/>
<path class="l" d="M1570.3 1308.4 L1591 1329.1" stroke-width="0.92"/>
<path class="l" d="M1585.9 1305.9 L1624.7 1334.3" stroke-width="0.92"/>
<path class="l" d="M1684.1 1298.1 L1712.6 1316.2" stroke-width="0.92"/>
<path class="l" d="M1720.3 1300.7 L1746.2 1321.4" stroke-width="0.92"/>
<path class="l" d="M1756.5 1312.3 L1764.3 1322.7" stroke-width="0.92"/>
<path class="l" d="M1779.8 1316.2 L1797.9 1321.4 L1808.3 1329.1" stroke-width="0.92"/>
<path class="l" d="M1782.4 1318.8 L1787.6 1322.7 L1803.1 1325.3" stroke-width="0.92"/>
<path class="l" d="M1785 1329.1 L1805.7 1334.3" stroke-width="0.92"/>
<path class="l" d="M1425.5 1386 L1554.8 1432.6" stroke-width="1.38"/>
<path class="l" d="M1428.1 1382.2 L1552.2 1427.4" stroke-width="0.92"/>
<path class="l" d="M1448.8 1391.2 L1549.7 1427.4" stroke-width="1.72"/>
<path class="l" d="M1451.4 1388.6 L1549.7 1423.5" stroke-width="0.92"/>
<path class="l" d="M1450.1 1360.2 L1448.8 1393.8" stroke-width="1.03"/>
<path class="l" d="M1464.3 1378.3 L1477.2 1411.9" stroke-width="1.03"/>
<path class="l" d="M1523.8 1419.7 L1552.2 1442.9" stroke-width="1.38"/>
<path class="l" d="M1461.7 1404.1 L1477.2 1414.5" stroke-width="1.38"/>
<path class="l" d="M1441 1393.8 L1454 1396.4 L1477.2 1402.8" stroke-width="0.92"/>
<path class="w" d="M1487.6 1367.9 L1500.5 1366.6 L1505.7 1373.1 L1499.2 1380.9 L1487.6 1378.3 Z" stroke-width="1.49"/>
<path class="l" d="M1491.5 1370.5 L1499.2 1370.5 L1499.2 1377 L1491.5 1375.7 Z" stroke-width="1.15"/>
<path class="l" d="M1677.7 1408 L1686.7 1406.7 L1690.6 1411.9 L1681.5 1414.5 Z" stroke-width="1.15"/>
<path class="l" d="M1591 1406.7 L1601.4 1420.9" stroke-width="0.92"/>
<path class="l" d="M1606.6 1401.6 L1614.3 1415.8" stroke-width="0.92"/>
<path class="l" d="M1722.9 1383.4 L1728.1 1393.8" stroke-width="0.92"/>
<path class="l" d="M1423.4 1386 C1423.7 1385.2 1424.7 1379.4 1426 1377.8 C1427.4 1376.1 1432.2 1372 1437.2 1369.2 C1442.1 1366.4 1462.1 1356.4 1475.9 1349.8 C1489.8 1343.3 1563.5 1308.9 1575.5 1303.8 C1587.5 1298.7 1586.9 1299.7 1596.2 1298.6 C1605.5 1297.6 1652.3 1293.2 1668.6 1293.4 C1684.9 1293.7 1748.8 1299.9 1759.1 1301.2 C1769.4 1302.5 1769.6 1305.1 1771.5 1306.4 C1773.5 1307.7 1775 1311.9 1778.5 1314.1 C1782.1 1316.4 1804.1 1327.6 1807 1329.1" stroke-width="0.92"/>
<path class="l" d="M1433.3 1383.4 C1434.1 1382.4 1436.5 1376.1 1441 1373.1 C1445.6 1370.1 1465 1359.7 1478.5 1353.2 C1492.1 1346.7 1557.8 1313.4 1576.8 1307.9 C1595.8 1302.4 1650.5 1298.4 1668.6 1298.1 C1686.7 1297.8 1748.9 1304.6 1757.8 1305.3" stroke-width="0.80"/>
<path class="l" d="M1494.1 1357.6 L1591 1331.7 L1668.6 1321.4 L1763 1316.7" stroke-width="0.92"/>
<path class="l" d="M1508.3 1373.1 C1514.5 1371.3 1558.7 1357.5 1570.3 1355 C1582 1352.5 1613.8 1349.9 1624.7 1347.8 C1635.5 1345.6 1665.8 1335.2 1679 1333.5 C1692.2 1331.9 1744.1 1330.1 1756.5 1330.9 C1769 1331.7 1798.4 1340.5 1803.1 1341.6" stroke-width="0.92"/>
<path class="l" d="M1557.4 1415.8 C1563.4 1414.4 1605.5 1404.5 1616.9 1401.6 C1628.3 1398.6 1658.3 1387.8 1671.2 1386 C1684.1 1384.2 1733.5 1387.6 1746.2 1383.4 C1758.9 1379.3 1792.8 1348.5 1797.9 1344.7" stroke-width="0.92"/>
<path class="l" d="M1424.2 1388.1 L1550.9 1434.7" stroke-width="0.92"/>
<path class="l" d="M1446.2 1393.8 L1550.9 1431.3" stroke-width="1.84"/>
<path class="l" d="M1461.7 1409.3 L1549.7 1442.9" stroke-width="0.92"/>
<path class="l" d="M1782.4 1316.2 L1792.8 1318.8 L1803.1 1324 L1809.6 1331.7 L1808.3 1338.2" stroke-width="1.03"/>
<path class="l" d="M1778.5 1321.4 L1797.9 1330.4 L1800.5 1339.5" stroke-width="0.92"/>
</g>
<g id="p13">
<path class="w" d="M435.5 2486.6 C439.4 2482.6 447 2474.3 450.3 2472.8 C453.5 2471.3 459.5 2472.5 463.2 2473.7 C466.9 2474.9 477.4 2479.9 481.7 2482.9 C486 2485.9 495.8 2494.8 500.1 2499.6 C504.5 2504.3 515.6 2518.8 518.6 2523.6 C521.6 2528.3 525.4 2537.4 526 2540.2 C526.7 2543 525.5 2545.6 524.2 2547.6 C522.9 2549.5 516.4 2554.7 514.9 2556.8 C513.4 2559 511.2 2564.1 511.2 2566.1 C511.2 2568 511.3 2568.7 514.9 2573.4 C518.6 2578.2 539.2 2602.4 542.6 2606.7 C546.1 2611 545.1 2606.9 544.5 2610.4 C543.8 2613.8 538.2 2631.7 537.1 2636.3 C536 2640.8 534.2 2645.7 535.2 2649.2 C536.3 2652.6 543.4 2661.5 546.3 2665.8 C549.2 2670.1 555.8 2678.5 560 2686.1 C564.2 2693.7 577.3 2722.8 582.5 2730.9 C587.7 2739 601.2 2751.3 604.7 2755.6 C608.1 2759.8 610.3 2764.9 612.1 2767.1 C613.8 2769.3 618 2771.9 619.5 2774.5 C620.9 2777.1 624.1 2785 624.4 2789.3 C624.7 2793.6 623.4 2807.1 621.9 2811.4 C620.5 2815.7 612.4 2818.4 612.1 2826.2 C611.8 2834 617.2 2870.2 619.5 2877.9 C621.8 2885.7 630 2890.4 631.8 2892.7 C633.5 2895 633.4 2890.7 634.2 2897.6 C635.1 2904.5 638.6 2939.2 639.2 2951.8 C639.7 2964.5 640 2998.5 639.2 3006 C638.3 3013.5 636.4 3015 631.8 3015.9 C627.2 3016.7 606.9 3012.8 599.8 3013.4 C592.6 3014 579.7 3017.6 570.2 3020.8 C560.7 3023.9 527.1 3038.3 518.5 3040.5 C509.9 3042.6 501.8 3040.7 496.3 3039.3 C490.8 3037.8 478.6 3031.9 471.7 3028.2 C464.8 3024.4 443.5 3011.3 437.2 3007.2 C430.9 3003.2 424.4 2997.6 417.5 2993.7 C410.6 2989.8 385 2977.7 378.1 2974 C371.2 2970.3 363.8 2964.8 358.4 2961.7 C352.9 2958.5 336.2 2948.9 331.3 2946.9 C326.4 2944.9 320.2 2945.9 316.5 2944.4 C312.8 2943 304.3 2937 299.3 2934.6 C294.2 2932.1 277.4 2926.7 273.4 2923.5 C269.4 2920.3 266.6 2912.8 264.8 2907.5 C262.9 2902.2 255.7 2890 257.4 2877.9 C259.1 2865.9 278.3 2815 279.6 2804 C280.8 2793.1 267.9 2790.3 268.5 2784.3 C269 2778.4 281.6 2760.7 284.5 2753.1 C287.4 2745.5 290.5 2728.7 293.3 2719.4 C296 2710.1 304.8 2683.3 308 2673.2 C311.3 2663.1 318.8 2638.6 321 2632.6 C323.1 2626.5 324.1 2626.2 326.5 2621.5 C328.9 2616.7 339.3 2595.8 341.3 2591.9 C343.2 2588 341.4 2590.2 343.1 2588.2 C344.9 2586.3 352.2 2578.3 356.1 2575.3 C359.9 2572.3 372.9 2564.5 376.4 2562.4 C379.8 2560.2 384.1 2558.3 385.6 2556.8 C387.1 2555.3 387.6 2552.5 389.3 2549.4 C391 2546.4 397.2 2535.9 400.4 2531 C403.6 2526 412.9 2512.1 417 2506.9 C421.1 2501.8 431.6 2490.6 435.5 2486.6 Z" stroke-width="1.61"/>
<path class="l" d="M345 2590.1 C343 2594.3 333.2 2615.3 330.2 2621.5 C327.2 2627.6 325.5 2628.9 322.8 2636.3 C320.1 2643.6 313.3 2663.1 309.9 2676.9 C306.4 2690.7 301.6 2727.1 296.9 2739.9 C292.3 2752.7 277.9 2768.6 275 2773" stroke-width="1.03"/>
<path class="l" d="M346.8 2591.9 C347.1 2593.9 348.9 2602 348.7 2606.7 C348.4 2611.4 346.9 2619.4 345 2627 C343 2634.7 337.8 2648.9 333.9 2664 C330 2679 322.2 2725 315.4 2739.9 C308.6 2754.8 287.3 2771.2 283 2776" stroke-width="1.03"/>
<path class="l" d="M350.5 2607.6 C350 2610.2 348.5 2619.5 346.8 2627 C345.1 2634.5 341 2648.9 337.6 2664 C334.1 2679 327.3 2724.6 321 2739.9 C314.6 2755.2 294.1 2773.8 290 2779" stroke-width="0.92"/>
<path class="l" d="M356.1 2575.3 L380.1 2558.7 L387.5 2557.7 L363.4 2584.5 L359.8 2580.8" stroke-width="1.26"/>
<path class="l" d="M343.1 2590.1 L374.5 2599.3 L444.7 2628.9" stroke-width="1.15"/>
<path class="l" d="M348.7 2606.7 L380.1 2610.4 L433.6 2636.3" stroke-width="1.15"/>
<path class="l" d="M374.5 2573.4 L387.5 2579" stroke-width="1.03"/>
<path class="l" d="M393 2586.4 L442.9 2612.2" stroke-width="1.03"/>
<path class="l" d="M426.3 2494 C428.7 2492.7 440.3 2485.1 444.7 2483.9 C449.2 2482.6 455.6 2482.9 459.5 2484.8 C463.4 2486.6 471.1 2492.3 474.3 2497.7 C477.5 2503.1 482.3 2518.8 483.5 2525.4 C484.8 2532.1 484.3 2542.2 483.5 2547.6 C482.8 2553 480.2 2561.6 478 2566.1 C475.8 2570.5 470.3 2576.7 466.9 2580.8 C463.4 2585 454.1 2595.2 452.1 2597.5" stroke-width="1.15"/>
<path class="l" d="M431.8 2492.2 C434.8 2491.7 449.3 2487.7 454 2488.5 C458.6 2489.2 463.9 2493.8 466.9 2497.7 C469.9 2501.7 474.7 2511.9 476.1 2518 C477.6 2524.2 478.5 2538 478 2543.9 C477.5 2549.8 474.9 2557.4 472.4 2562.4 C470 2567.3 462.5 2576.9 459.5 2580.8 C456.6 2584.8 451.5 2590.4 450.3 2591.9" stroke-width="1.03"/>
<path class="l" d="M389.3 2551.3 C390.8 2549.8 396.7 2544.9 400.4 2540.2 C404.1 2535.5 412.3 2522.6 417 2516.2 C421.7 2509.8 433 2495.4 435.5 2492.2" stroke-width="1.03"/>
<path class="l" d="M365.3 2617.8 C366 2615.3 367.6 2604.7 370.8 2599.3 C374 2593.9 383.6 2583.1 389.3 2577.1 C395 2571.2 407.7 2559.7 413.3 2555 C419 2550.3 428.1 2543.8 431.8 2542 C435.5 2540.3 439.1 2541.3 441 2542 C443 2542.8 445.3 2544.9 446.6 2547.6 C447.8 2550.3 450 2555.5 450.3 2562.4 C450.5 2569.3 449.2 2590.4 448.4 2599.3 C447.7 2608.2 446.2 2621.5 444.7 2628.9 C443.3 2636.3 438.8 2646.4 437.3 2654.7 C435.9 2663.1 435.6 2680.3 433.6 2691.7 C431.7 2703 424 2733.5 422.6 2739.9" stroke-width="1.26"/>
<path class="l" d="M374.5 2608.5 C375.5 2607.6 379 2604.4 381.9 2601.2 C384.9 2598 392 2589.7 396.7 2584.5 C401.4 2579.4 412.1 2566.8 417 2562.4 C421.9 2557.9 430.2 2552.3 433.6 2551.3 C437.1 2550.3 441.4 2553 442.9 2555 C444.4 2556.9 444.6 2559.7 444.7 2566.1 C444.9 2572.5 444.4 2594.6 443.8 2603 C443.2 2611.4 441.2 2622 440.1 2628.9 C439 2635.8 436.5 2646.4 435.5 2654.7 C434.5 2663.1 433.6 2680.3 432.7 2691.7 C431.9 2703 429.5 2733.5 429 2739.9" stroke-width="1.26"/>
<path class="l" d="M367.1 2603 C366.9 2605 365.8 2613.4 365.3 2617.8 C364.8 2622.2 363.2 2628.9 363.4 2636.3 C363.7 2643.6 366.5 2659.4 367.1 2673.2 C367.8 2687 367.9 2731 368.1 2739.9" stroke-width="1.15"/>
<path class="l" d="M376.4 2603 C375.6 2605 371.6 2613.4 370.8 2617.8 C370.1 2622.2 370.2 2628.9 370.8 2636.3 C371.5 2643.6 374.5 2659.4 375.5 2673.2 C376.4 2687 377.9 2731 378.2 2739.9" stroke-width="1.15"/>
<path class="l" d="M381.9 2604.9 C381.7 2607.8 379.6 2617.9 380.1 2627 C380.6 2636.1 384.4 2658.2 385.6 2673.2 C386.8 2688.3 388.8 2731 389.3 2739.9" stroke-width="1.03"/>
<path class="l" d="M369 2614.1 L378.2 2612.2" stroke-width="1.03"/>
<path class="l" d="M441 2610.4 L452.1 2612.2" stroke-width="1.03"/>
<path class="l" d="M455.8 2604.9 L522.3 2543.9" stroke-width="1.84"/>
<path class="l" d="M457.7 2607.6 L526 2547.6" stroke-width="1.03"/>
<path class="l" d="M511.2 2536.5 L518.6 2529.1 L526 2538.4 L526 2545.7 L518.6 2547.6" stroke-width="1.49"/>
<path class="l" d="M437.3 2654.7 L487.2 2610.4 L500.1 2610.4 L520.5 2577.1 L514.9 2573.4" stroke-width="1.26"/>
<path class="l" d="M439.2 2657.5 L490.9 2614.1 L503.8 2615.9" stroke-width="1.03"/>
<path class="l" d="M444.7 2652.9 L490.9 2617.8" stroke-width="0.92"/>
<path class="l" d="M500.1 2610.4 L537.1 2654.7 L560 2700.9" stroke-width="1.26"/>
<path class="l" d="M496.5 2615.9 L533.4 2658.4 L555.6 2702.8" stroke-width="1.15"/>
<path class="l" d="M489.1 2610.4 L498.3 2603 L500.1 2610.4" stroke-width="1.03"/>
<path class="l" d="M452.1 2651 L490.9 2671.4" stroke-width="1.03"/>
<path class="l" d="M463.2 2641.8 L505.7 2665.8" stroke-width="1.03"/>
<path class="l" d="M481.7 2632.6 L527.9 2656.6" stroke-width="1.03"/>
<path class="l" d="M500.1 2588.2 L522.3 2577.1" stroke-width="1.03"/>
<path class="l" d="M542.6 2606.7 L537.1 2647.3" stroke-width="1.03"/>
<path class="l" d="M450.1 2739.9 C450.4 2735.9 451.4 2716.6 452.1 2710.1 C452.9 2703.7 453.1 2697.1 455.8 2691.7 C458.5 2686.3 467.3 2673.7 472.4 2669.5 C477.6 2665.3 489.4 2660.8 494.6 2660.3 C499.8 2659.8 508 2663.4 511.2 2665.8 C514.4 2668.3 517.6 2674.1 518.6 2678.7 C519.6 2683.4 520 2692.8 518.6 2700.9 C517.3 2709.1 510 2734.7 508.6 2739.9" stroke-width="1.26"/>
<path class="l" d="M459 2739.9 C459.3 2736.7 460.5 2721.6 461.4 2715.7 C462.2 2709.8 462.6 2700.5 465.1 2695.4 C467.5 2690.2 475.9 2680.1 479.8 2676.9 C483.8 2673.7 490.9 2671.4 494.6 2671.4 C498.3 2671.4 505.6 2674.2 507.5 2676.9 C509.5 2679.6 509.4 2687.2 509.4 2691.7 C509.4 2696.1 508.3 2703.7 507.5 2710.1 C506.8 2716.6 504.3 2735.9 503.8 2739.9" stroke-width="1.26"/>
<path class="l" d="M472.4 2673.2 L479.8 2682.4" stroke-width="0.92"/>
<path class="l" d="M494.6 2660.3 L496.5 2671.4" stroke-width="0.92"/>
<path class="l" d="M455.8 2702.8 L465.1 2704.6" stroke-width="0.92"/>
<path class="l" d="M293.3 2790.7 C293.3 2798.9 302.7 2816.2 305.7 2827.7 C308.6 2839.2 312.6 2866.1 315.5 2876.9 C318.5 2887.8 323.9 2902.7 327.8 2909 C331.8 2915.2 340.8 2922.1 345.1 2923.7 C349.3 2925.4 357.9 2925.9 359.9 2921.3 C361.8 2916.7 361.2 2900.1 359.9 2889.3 C358.5 2878.4 352.3 2853.1 350 2840 C347.7 2826.9 342.9 2799.9 342.6 2790.7 C342.3 2781.5 349.5 2776 347.5 2771 C345.6 2766.1 333.4 2754.4 327.8 2753.8 C322.2 2753.1 310.3 2761.2 305.7 2766.1 C301.1 2771 293.3 2782.5 293.3 2790.7 Z" stroke-width="0.92"/>
<path class="l" d="M364.8 2742.5 C364.4 2755.6 361.7 2818 362.3 2841 C363 2864 366.7 2899.4 369.7 2914.9 C372.7 2930.3 379.9 2949.9 384.5 2956.7 C389.1 2963.6 399.9 2966.3 404.2 2966.6 C408.5 2966.9 414.9 2966.1 416.5 2959.2 C418.1 2952.3 417.8 2929 416.5 2914.9 C415.2 2900.8 408.3 2866.4 406.7 2853.3 C405 2840.2 402.5 2831.1 404.2 2816.4 C405.8 2801.6 417 2752.3 419 2742.5" stroke-width="0.92"/>
<path class="l" d="M446.6 2742.5 C442.5 2754 420.2 2809 416.5 2828.7 C412.8 2848.4 417.3 2872.2 419 2890.2 C420.6 2908.3 425.5 2951 428.8 2964.1 C432.1 2977.3 439.3 2983.8 443.6 2988.8 C447.9 2993.7 456.9 3000.8 460.8 3001.1 C464.8 3001.4 471.5 2999.4 473.2 2991.2 C474.8 2983 473.8 2953 473.2 2939.5 C472.5 2926 467.9 2903.4 468.2 2890.2 C468.6 2877.1 470.7 2860.7 475.6 2841 C480.5 2821.3 501.2 2755.6 505.2 2742.5" stroke-width="0.92"/>
<path class="l" d="M363.1 2615.2 C363.8 2612.7 365.4 2602.1 368.6 2596.7 C371.8 2591.3 381.4 2580.5 387.1 2574.6 C392.8 2568.6 405.4 2557.1 411.1 2552.4 C416.8 2547.7 425.9 2541.2 429.6 2539.5 C433.3 2537.7 436.8 2538.7 438.8 2539.5 C440.8 2540.2 443.1 2542.3 444.4 2545 C445.6 2547.7 447.8 2552.9 448.1 2559.8 C448.3 2566.7 446.9 2587.9 446.2 2596.7 C445.5 2605.6 444 2618.9 442.5 2626.3 C441 2633.7 436.6 2643.8 435.1 2652.1 C433.6 2660.5 433.4 2677.7 431.4 2689.1 C429.5 2700.4 421.8 2730.9 420.3 2737.3" stroke-width="0.92"/>
<path class="l" d="M447.5 2737.3 C447.8 2733.3 448.8 2714 449.5 2707.6 C450.3 2701.1 450.5 2694.5 453.2 2689.1 C455.9 2683.7 464.7 2671.1 469.9 2666.9 C475 2662.7 486.8 2658.2 492 2657.7 C497.2 2657.2 505.4 2660.8 508.6 2663.2 C511.8 2665.7 515.1 2671.5 516 2676.2 C517 2680.8 517.4 2690.2 516 2698.3 C514.7 2706.5 507.4 2732.1 506.1 2737.3" stroke-width="0.92"/>
<path class="l" d="M426.3 2494 C428.2 2492.3 437.3 2483.2 441 2481.1 C444.7 2479 450.3 2478.3 454 2478.3 C457.7 2478.3 464.3 2478.7 468.7 2481.1 C473.2 2483.4 483 2491.4 487.2 2495.9 C491.4 2500.3 497.7 2509.7 500.1 2514.3 C502.6 2519 505 2528.7 505.7 2531" stroke-width="0.92"/>
<path class="l" d="M284.5 2769.6 C290.9 2773 336.2 2796.2 348.5 2804 C360.8 2811.9 398.8 2842.7 407.6 2848.4 C416.5 2854 428.1 2856.3 437.2 2860.7 C446.3 2865.1 492.6 2889.5 498.8 2892.7" stroke-width="1.15"/>
<path class="l" d="M272.2 2789.3 C280.5 2794.1 342.4 2829.9 355.9 2837.3 C369.5 2844.7 396.3 2857.5 407.6 2863.2 C419 2868.8 460.3 2889 469.2 2893.9 C478.1 2898.9 493.6 2910.6 496.3 2912.4" stroke-width="1.15"/>
<path class="l" d="M296.8 2789.3 C296.8 2797.5 306.2 2814.7 309.1 2826.2 C312.1 2837.7 316 2864.6 319 2875.5 C321.9 2886.3 327.3 2901.2 331.3 2907.5 C335.2 2913.7 344.3 2920.6 348.5 2922.3 C352.8 2923.9 361.3 2924.4 363.3 2919.8 C365.3 2915.2 364.6 2898.6 363.3 2887.8 C362 2876.9 355.7 2851.7 353.4 2838.5 C351.1 2825.4 346.4 2798.5 346.1 2789.3 C345.7 2780.1 353 2774.5 351 2769.6 C349 2764.6 336.9 2753 331.3 2752.3 C325.7 2751.7 313.7 2759.7 309.1 2764.6 C304.5 2769.6 296.8 2781.1 296.8 2789.3 Z" stroke-width="1.26"/>
<path class="l" d="M311.6 2794.2 C310.6 2803.4 312.4 2826 314 2838.5 C315.7 2851 320 2877.9 323.9 2887.8 C327.8 2897.6 339 2909.1 343.6 2912.4 C348.2 2915.7 356.4 2915.7 358.4 2912.4 C360.3 2909.1 359.7 2897.6 358.4 2887.8 C357.1 2877.9 350.2 2852.3 348.5 2838.5 C346.9 2824.7 347.4 2793.9 346.1 2784.3 C344.7 2774.8 342 2769.1 338.7 2767.1 C335.4 2765.1 325 2765.9 321.4 2769.6 C317.8 2773.2 312.6 2785 311.6 2794.2 Z" stroke-width="1.15"/>
<path class="l" d="M368.2 2740 C367.9 2753.1 365.1 2815.5 365.8 2838.5 C366.4 2861.5 370.2 2897 373.2 2912.4 C376.1 2927.8 383.3 2947.4 387.9 2954.3 C392.5 2961.2 403.4 2963.8 407.6 2964.1 C411.9 2964.5 418.3 2963.6 420 2956.7 C421.6 2949.9 421.3 2926.5 420 2912.4 C418.6 2898.3 411.7 2864 410.1 2850.8 C408.5 2837.7 406 2828.7 407.6 2813.9 C409.3 2799.1 420.4 2749.9 422.4 2740" stroke-width="1.26"/>
<path class="l" d="M378.1 2740 C377.8 2753.1 375 2815.5 375.6 2838.5 C376.3 2861.5 380.4 2897.6 383 2912.4 C385.6 2927.2 392 2943.8 395.3 2949.4 C398.6 2954.9 405 2954.3 407.6 2954.3 C410.3 2954.3 414.2 2954.9 415 2949.4 C415.8 2943.8 415.1 2925.6 413.8 2912.4 C412.5 2899.3 406.7 2864 405.2 2850.8 C403.7 2837.7 399.6 2828.7 402.7 2813.9 C405.8 2799.1 425.1 2749.9 428.6 2740" stroke-width="1.15"/>
<path class="l" d="M389.2 2740 C388.8 2753.1 386 2815.5 386.7 2838.5 C387.4 2861.5 391.8 2898 394.1 2912.4 C396.4 2926.9 402.6 2942.3 403.9 2946.9" stroke-width="0.92"/>
<path class="l" d="M450 2740 C446 2751.5 423.6 2806.5 420 2826.2 C416.3 2845.9 420.8 2869.7 422.4 2887.8 C424.1 2905.8 429 2948.5 432.3 2961.7 C435.6 2974.8 442.8 2981.4 447 2986.3 C451.3 2991.2 460.3 2998.3 464.3 2998.6 C468.2 2998.9 475 2997 476.6 2988.8 C478.2 2980.6 477.3 2950.5 476.6 2937 C475.9 2923.6 471.3 2900.9 471.7 2887.8 C472 2874.6 474.1 2858.2 479.1 2838.5 C484 2818.8 504.7 2753.1 508.6 2740" stroke-width="1.26"/>
<path class="l" d="M458.9 2740 C455 2751.5 433.3 2806.5 429.8 2826.2 C426.3 2845.9 430.6 2870.4 432.3 2887.8 C433.9 2905.2 439.2 2944.3 442.1 2956.7 C445.1 2969.2 451.1 2977.1 454.4 2981.4 C457.7 2985.6 464.1 2988.4 466.7 2988.8 C469.4 2989.1 473.3 2990.7 474.1 2983.8 C475 2976.9 473.9 2949.9 472.9 2937 C471.9 2924.2 466.6 2900.9 466.7 2887.8 C466.9 2874.6 469.2 2858.2 474.1 2838.5 C479.1 2818.8 499.8 2753.1 503.7 2740" stroke-width="1.15"/>
<path class="l" d="M496.3 2927.2 L496.3 3039.3" stroke-width="1.38"/>
<path class="l" d="M501.2 2927.2 L501.2 3039.3" stroke-width="0.92"/>
<path class="l" d="M520.9 2912.4 L520.9 3039.3" stroke-width="1.38"/>
<path class="l" d="M486.5 2887.8 L496.3 2927.2 L520.9 2912.4 L570.2 2868.1 L572.7 3018.3" stroke-width="1.26"/>
<path class="l" d="M575.1 2868.1 L575.1 3018.3" stroke-width="0.92"/>
<path class="l" d="M496.3 2877.9 L548 2855.8 L570.2 2868.1" stroke-width="1.15"/>
<path class="l" d="M491.4 2892.7 L548 2858.2" stroke-width="0.92"/>
<path class="l" d="M513.5 2937 C517.5 2931.6 546.2 2910 550.5 2907.5 C554.8 2905 556.2 2909.5 556.7 2912.4 C557.1 2915.4 559 2931.1 555.4 2937 C551.8 2943 525.4 2969.1 520.9 2971.5 C516.5 2974 511.8 2965.1 511.1 2961.7 C510.3 2958.2 509.6 2942.5 513.5 2937 Z" stroke-width="1.61"/>
<path class="l" d="M518.5 2939.5 C521.3 2934.3 545.9 2912.9 549.3 2912.4 C552.6 2911.9 554.6 2929.4 551.7 2934.6 C548.9 2939.8 524.3 2963.6 520.9 2964.1 C517.6 2964.6 515.6 2944.7 518.5 2939.5 Z" stroke-width="0.92"/>
<path class="l" d="M513.5 3001.1 C517.4 2997.1 545 2974 549.3 2971.5 C553.6 2969.1 556 2974.7 556.7 2976.5 C557.3 2978.2 559 2984.6 555.4 2988.8 C551.8 2993 525.4 3016.1 520.9 3018.3 C516.5 3020.5 511.8 3012.7 511.1 3010.9 C510.3 3009.2 509.7 3005 513.5 3001.1 Z" stroke-width="1.61"/>
<path class="l" d="M518.5 3003.5 C521.2 3000 544.7 2979.4 548 2977.7 C551.4 2976 554.4 2982.7 551.7 2986.3 C549 2989.9 524.3 3011.7 520.9 3013.4 C517.6 3015.1 515.8 3007.1 518.5 3003.5 Z" stroke-width="0.92"/>
<path class="l" d="M587.4 2863.2 C589.1 2858.9 612.6 2835.6 614.5 2836.1 C616.5 2836.6 618.6 2866.3 617 2870.5 C615.4 2874.8 591.9 2900.6 589.9 2900.1 C587.9 2899.6 585.8 2867.4 587.4 2863.2 Z" stroke-width="1.61"/>
<path class="l" d="M587.4 2944.4 C590.2 2937.9 628.5 2897.1 631.8 2897.6 C635.1 2898.1 639.5 2945.3 636.7 2951.8 C633.9 2958.4 593.2 2996.7 589.9 2996.2 C586.6 2995.7 584.6 2951 587.4 2944.4 Z" stroke-width="1.61"/>
<path class="l" d="M592.4 2946.9 L630.5 2905" stroke-width="0.92"/>
<path class="l" d="M612.1 2826.2 L614.5 2912.4 L634.2 2897.6" stroke-width="1.03"/>
<path class="l" d="M533.3 2789.3 L555.4 2786.8 L567.7 2776.9 L580 2762.2 L594.8 2757.2 L607.1 2764.6" stroke-width="1.15"/>
<path class="l" d="M533.3 2789.3 L501.2 2740" stroke-width="1.03"/>
<path class="l" d="M533.3 2789.3 L498.8 2858.2 L486.5 2887.8" stroke-width="1.03"/>
<path class="l" d="M555.4 2786.8 L520.9 2858.2" stroke-width="1.03"/>
<path class="l" d="M567.7 2776.9 L548 2855.8" stroke-width="1.03"/>
<path class="l" d="M582.5 2762.2 L572.7 2868.1" stroke-width="1.03"/>
<path class="l" d="M594.8 2757.2 L589.9 2779.4 L577.6 2863.2" stroke-width="1.03"/>
<path class="l" d="M319 2942 L323.9 2937 L328.8 2942 L326.4 2949.4 L320.2 2949.4 L319 2942" stroke-width="1.15"/>
<path class="l" d="M274.6 2924.7 L299.3 2937 L331.3 2949.4 L360.8 2965.4 L380.5 2976.5 L420 2996.2 L437.2 3009.7 L474.1 3030.6 L496.3 3041" stroke-width="0.92"/>
</g>
<g id="p3">
<path class="w" d="M1753.3 2199.4 C1754.8 2199.1 1780.9 2195.5 1783.2 2195.8 C1785.5 2196.1 1799 2204.3 1799.8 2205 C1800.7 2205.6 1800.4 2208.4 1800.4 2209.4 C1800.3 2210.3 1799 2222.5 1798.7 2223.8 C1798.4 2225.1 1795.4 2233.6 1794.8 2234.9 C1794.2 2236.1 1787.4 2247.5 1786.5 2248.7 C1785.6 2250 1777.2 2258.6 1776.5 2259.3 C1775.8 2260 1773.3 2262.4 1772.7 2262.6 C1772.1 2262.8 1765 2263 1764.3 2263.2 C1763.7 2263.3 1760.3 2265.3 1759.9 2265.4 C1759.5 2265.5 1757.3 2265.5 1756 2264.8 C1754.8 2264.1 1736.6 2252.4 1735.5 2251.5 C1734.5 2250.6 1735 2248.2 1735 2247.1 C1734.9 2246 1733.8 2230.3 1733.9 2229.3 C1733.9 2228.4 1736.3 2228.5 1736.6 2228.2 C1737 2228 1740.3 2225.1 1741.1 2223.8 C1741.8 2222.5 1751.5 2202.8 1752.2 2201.6 C1752.8 2200.4 1751.7 2199.7 1753.3 2199.4 Z" stroke-width="1.49"/>
<path class="l" d="M1753.3 2200 C1755.2 2201.1 1768 2210.8 1772.7 2211.6 C1777.3 2212.4 1797.1 2208.6 1799.8 2208.3" stroke-width="1.26"/>
<path class="l" d="M1752.7 2202.7 L1772.1 2213.8" stroke-width="1.15"/>
<path class="l" d="M1779.3 2196.1 L1799.3 2206.6" stroke-width="1.15"/>
<path class="l" d="M1772.7 2212.7 C1771.6 2214.9 1763.5 2232.1 1762.1 2234.9 C1760.7 2237.7 1759.1 2239.9 1758.8 2240.4" stroke-width="1.61"/>
<path class="l" d="M1771 2216 L1761 2234.9" stroke-width="1.15"/>
<path class="l" d="M1775.4 2211.6 C1775.4 2212.5 1775.5 2219.1 1775.4 2220.5 C1775.3 2221.9 1775.4 2223.4 1774.3 2225.5 C1773.2 2227.6 1765.3 2239.9 1764.3 2241.5" stroke-width="1.15"/>
<path class="l" d="M1775.4 2220.5 L1794.3 2231.6" stroke-width="1.15"/>
<path class="l" d="M1741.1 2223.8 L1761 2234.9" stroke-width="1.15"/>
<path class="l" d="M1736.6 2228.8 L1756.6 2240.4" stroke-width="1.15"/>
<path class="l" d="M1735.5 2236 C1736.1 2236.3 1739.2 2238.2 1741.1 2239.3 C1742.9 2240.5 1753 2246.8 1754.4 2247.6" stroke-width="1.49"/>
<path class="l" d="M1736.6 2246 L1740 2241" stroke-width="1.15"/>
<path class="l" d="M1736.1 2247.1 L1755.5 2258.2" stroke-width="1.15"/>
<path class="l" d="M1756 2240.4 L1756 2264.8" stroke-width="1.38"/>
<path class="l" d="M1762.1 2234.9 C1762.4 2236.6 1764.1 2248.7 1764.3 2251.5 C1764.6 2254.3 1764.3 2261.5 1764.3 2262.6" stroke-width="1.15"/>
<path class="l" d="M1764.3 2258.7 C1765.2 2258.8 1771.3 2260 1772.7 2259.8 C1774 2259.7 1777.6 2257.3 1778.2 2257.1" stroke-width="1.38"/>
<path class="l" d="M1797.6 2209.4 C1797.4 2211.4 1796.5 2225.7 1795.4 2229.3 C1794.3 2233 1788.3 2243.1 1786.5 2246 C1784.7 2248.8 1778 2256.5 1777.1 2257.6" stroke-width="1.72"/>
</g>
<g id="p1"><path class="l" d="M1153.5 1731.2 L1156 1716.5 L1162.2 1710.3 L1175.7 1699.2" stroke-width="1.89"/><path class="l" d="M1176.9 1699.2 C1178 1697.2 1184 1684.6 1185.6 1682 C1187.1 1679.4 1187.2 1677.4 1190.5 1677 C1193.8 1676.7 1210.5 1678.5 1213.9 1679 C1217.3 1679.5 1218.6 1680.4 1219.3 1681.5 C1220 1682.5 1221.3 1686.6 1220 1688.1 C1218.8 1689.6 1211.6 1692.6 1209 1694.3 C1206.4 1696 1200.2 1698.9 1197.9 1702.9 C1195.6 1706.9 1190.3 1725.8 1189.3 1728.8" stroke-width="1.62"/><path class="l" d="M1180.6 1716.5 L1188 1686.9 L1193 1684.4" stroke-width="1.22"/><path class="l" d="M1174.5 1701.7 L1184.3 1689.4 L1190.5 1677" stroke-width="1.22"/><path class="l" d="M1186.8 1677 L1199.1 1669.7 L1238.5 1648.7 L1243.4 1649.5 L1264.4 1651.2 L1273 1630.7" stroke-width="1.89"/><path class="l" d="M1273 1630.7 C1274.7 1631.1 1285.3 1633.1 1287.8 1633.9 C1290.2 1634.7 1293.7 1636.5 1293.9 1637.6 C1294.2 1638.8 1292.1 1642.4 1290.2 1643.8 C1288.4 1645.2 1280.8 1648.6 1277.9 1649.5 C1275.1 1650.3 1267.1 1651 1265.6 1651.2" stroke-width="1.48"/><path class="l" d="M1276.7 1633.9 L1273 1640.1 L1270.5 1650" stroke-width="1.22"/><path class="l" d="M1273 1630.7 C1274.7 1629.5 1284.6 1622.9 1287.8 1620.4 C1290.9 1617.9 1297.5 1611.9 1300.1 1609.3 C1302.7 1606.7 1307.7 1601 1310 1598.2 C1312.2 1595.5 1316.9 1588.5 1319.8 1585.9 C1322.7 1583.3 1331.7 1577.4 1334.6 1576.1 C1337.5 1574.8 1339.5 1575.3 1344.4 1574.8 C1349.3 1574.3 1371.6 1572.4 1376.5 1571.6 C1381.3 1570.8 1382.3 1569 1386.3 1567.9 C1390.3 1566.9 1404 1563.6 1410.9 1562.5 C1417.8 1561.4 1438.8 1558.7 1445.4 1558.3 C1452 1558 1463 1558.5 1467.6 1559.3 C1472.2 1560.1 1480.5 1563.7 1484.8 1565 C1489.1 1566.2 1498.1 1568.3 1504.5 1569.9 C1511 1571.5 1535.9 1577.5 1540 1578.5" stroke-width="1.89"/><path class="l" d="M1302.6 1608.1 C1304.3 1606.9 1313.3 1599.7 1317.3 1598.2 C1321.4 1596.8 1332.4 1596.9 1337 1595.8 C1341.6 1594.6 1352.2 1589.7 1356.7 1588.4 C1361.3 1587.1 1372.7 1585.3 1376.5 1584.7 C1380.2 1584.1 1386.3 1584.3 1388.8 1583.4 C1391.2 1582.6 1396.5 1578.4 1397.4 1577.3 C1398.3 1576.1 1397.5 1574.3 1396.2 1573.6 C1394.9 1572.9 1388.6 1571.8 1386.3 1571.6 C1384 1571.5 1377.6 1572.3 1376.5 1572.4" stroke-width="1.48"/><path class="l" d="M1342 1574.8 L1356.7 1585.9" stroke-width="1.22"/><path class="l" d="M1351.8 1578.5 L1376.5 1578.5" stroke-width="1.08"/><path class="l" d="M1376.5 1573.6 L1377.7 1583.4" stroke-width="1.08"/><path class="l" d="M1233.6 1710.3 C1239.9 1707 1272.8 1691 1287.8 1682 C1302.7 1672.9 1345.9 1643.1 1361.7 1632.7 C1377.5 1622.4 1411.5 1601.6 1423.3 1593.3 C1435 1585 1458.1 1565 1462.7 1561.3" stroke-width="1.48"/><path class="l" d="M1241 1712.8 C1247 1710 1278.6 1697.5 1292.7 1689.4 C1306.8 1681.2 1345.9 1653.2 1361.7 1642.6 C1377.5 1631.9 1415 1607.6 1428.2 1598.2 C1441.4 1588.9 1469.5 1566.7 1475 1562.5" stroke-width="1.48"/><path class="l" d="M1196.7 1701.7 L1233.6 1709.1" stroke-width="1.35"/><path class="l" d="M1196.7 1706.6 L1231.1 1712.8 L1238.5 1720.1 L1342 1773.1" stroke-width="1.35"/><path class="l" d="M1285.3 1691.8 L1391.2 1750.9" stroke-width="1.22"/><path class="l" d="M1229.9 1717.7 L1233.6 1707.8" stroke-width="1.22"/><path class="l" d="M1237.3 1718.9 L1239.8 1710.3" stroke-width="1.22"/><path class="l" d="M1483.6 1563.7 L1487.3 1547.7 L1499.6 1520.6 L1524.2 1513.3 L1540 1511.5" stroke-width="1.62"/><path class="l" d="M1487.3 1547.7 L1524.2 1549 L1534.1 1546.5" stroke-width="1.35"/><path class="l" d="M1489.8 1540.3 L1524.2 1541.6" stroke-width="1.35"/><path class="l" d="M1494.7 1523.1 L1534.1 1525.6" stroke-width="1.22"/><path class="l" d="M1499.6 1524.3 L1492.2 1546.5" stroke-width="1.22"/><path class="l" d="M1519.3 1526.8 L1511.9 1569.9" stroke-width="1.22"/><path class="l" d="M1529.2 1526.8 L1521.8 1568.7" stroke-width="1.22"/><path class="l" d="M1502.1 1569.9 L1509.5 1567.4 L1516.8 1569.9" stroke-width="1.35"/><path class="l" d="M1483.6 1700.4 L1492.2 1674.6 L1502.1 1666 L1500.8 1677 L1487.3 1700.4 Z" stroke-width="1.62"/><path class="l" d="M1423.3 1738.6 L1431.9 1711.5 L1441.7 1702.9 L1440.5 1714 L1426.9 1738.6 Z" stroke-width="1.62"/><path class="l" d="M1487.3 1696.7 L1494.7 1674.6" stroke-width="1.08"/><path class="l" d="M1426.9 1734.9 L1434.3 1712.8" stroke-width="1.08"/><path class="l" d="M1500 1520.3 L1532 1513 L1561.6 1513 L1564.5 1519.1 L1561.6 1558.5 L1554.2 1579.5" stroke-width="1.62"/><path class="l" d="M1500 1524.5 L1532 1524.5 L1564.5 1517.9" stroke-width="1.35"/><path class="l" d="M1532 1524.5 L1522.2 1570.8" stroke-width="1.35"/><path class="l" d="M1500 1546.2 L1524.6 1545" stroke-width="1.22"/><path class="l" d="M1559.1 1524 L1553 1578.2" stroke-width="1.08"/><path class="l" d="M1523.4 1513 L1527.1 1516.7 L1539.4 1515.4 L1544.3 1513" stroke-width="2.70"/><path class="l" d="M1555.4 1572.1 L1743.8 1522.8" stroke-width="1.22"/><path class="l" d="M1500 1569.6 C1502.9 1570.3 1518.3 1574.6 1524.6 1575.8 C1531 1576.9 1546.7 1579.1 1554.2 1579.5 C1561.7 1579.8 1582.9 1578.9 1588.7 1578.7 C1594.4 1578.5 1597.7 1578.8 1603.4 1577.7 C1609.2 1576.7 1629.9 1571 1637.9 1569.6 C1646 1568.2 1664.9 1566.8 1672.4 1565.9 C1679.9 1565 1694.5 1563.1 1702 1562.2 C1709.4 1561.4 1730.4 1559.2 1736.5 1558.5 C1742.5 1557.8 1751.7 1556.3 1753.7 1556.1" stroke-width="1.89"/><path class="l" d="M1588.7 1578.7 C1589.8 1580.4 1596.2 1590.2 1598.5 1593 C1600.8 1595.8 1602.6 1599.7 1608.4 1602.9 C1614.1 1606 1643.2 1618.1 1647.8 1620.1" stroke-width="1.35"/><path class="l" d="M1598.5 1579.5 C1600.8 1581.6 1612.5 1593.2 1618.2 1597.9 C1624 1602.7 1644.3 1617.5 1647.8 1620.1" stroke-width="1.35"/><path class="l" d="M1647.8 1620.1 L1711.8 1664.4 L1798 1713.7 L1869.5 1750.6 L1900 1760" stroke-width="1.35"/><path class="l" d="M1652.7 1622.6 L1716.7 1663.2 L1800.5 1716.2 L1900 1767.9" stroke-width="1.22"/><path class="l" d="M1624.4 1626.3 L1645.3 1620.1 L1652.7 1627.5 L1682.3 1643.5 L1689.7 1652.1 L1709.4 1664.4 L1699.5 1668.1 L1624.4 1626.3" stroke-width="1.48"/><path class="l" d="M1640.4 1633.6 L1652.7 1627.5" stroke-width="1.22"/><path class="l" d="M1665 1647.2 L1679.8 1643.5" stroke-width="1.89"/><path class="l" d="M1682.3 1657 L1689.7 1652.1" stroke-width="1.22"/><path class="l" d="M1736.5 1557.3 L1751.2 1500.6 L1758.6 1498.2 L1790.6 1496.9 L1796.8 1503.1 L1798 1514.2 L1794.3 1541.3" stroke-width="1.89"/><path class="l" d="M1753.7 1556.1 L1763.5 1506.8 L1756.2 1503.1" stroke-width="1.35"/><path class="l" d="M1763.5 1506.8 L1785.7 1500.6" stroke-width="1.35"/><path class="l" d="M1774.6 1543.7 L1785.7 1500.6" stroke-width="1.35"/><path class="l" d="M1780.8 1543.7 L1793.1 1501.9" stroke-width="1.35"/><path class="l" d="M1764.8 1516.7 C1765.6 1516.9 1771.4 1517.7 1772.2 1519.1 C1772.9 1520.6 1772.2 1527.5 1770.9 1529 C1769.6 1530.4 1762.2 1531.1 1761.1 1531.4" stroke-width="1.35"/><path class="l" d="M1770.9 1565.9 L1775.9 1545 L1800.5 1543.7 L1805.4 1531.4 L1807.9 1533.9 L1806.7 1548.7 L1827.6 1553.6 L1828.8 1561 L1826.4 1577 L1801.7 1570.8 L1800.5 1581.9 L1795.6 1580.7 L1798 1568.4 L1770.9 1567.1 Z" stroke-width="1.62"/><path class="l" d="M1800.5 1543.7 L1795.6 1580.7" stroke-width="1.35"/><path class="l" d="M1806.7 1548.7 L1801.7 1570.8" stroke-width="1.35"/><path class="l" d="M1780.8 1546.2 L1775.9 1568.4" stroke-width="1.08"/><path class="l" d="M1798 1514.2 L1900 1503.1" stroke-width="1.35"/><path class="l" d="M1807.9 1533.9 L1900 1517.9" stroke-width="1.35"/><path class="l" d="M1807.9 1541.3 L1900 1524.5" stroke-width="1.22"/><path class="l" d="M1830 1563.4 L1852.2 1574.5 L1900 1563.4" stroke-width="1.35"/><path class="l" d="M1637.9 1569.6 C1650.6 1570.6 1725 1575.3 1746.3 1577.7 C1767.6 1580.2 1802.3 1587 1820.2 1590.5 C1838.1 1594 1890.7 1605.8 1900 1607.8" stroke-width="1.35"/><path class="l" d="M1647.8 1568.4 C1659.3 1569.1 1726.2 1572.5 1746.3 1574.8 C1766.4 1577 1802.3 1584.1 1820.2 1587.6 C1838.1 1591.1 1890.7 1602.8 1900 1604.8" stroke-width="1.22"/><path class="l" d="M1529.6 1760 C1530.4 1756.9 1534.1 1737.9 1536.9 1733.4 C1539.8 1728.9 1549.9 1722.2 1554.2 1721.1 C1558.5 1719.9 1571 1722.4 1573.9 1723.5 C1576.8 1724.7 1578.8 1728.6 1578.8 1730.9 C1578.8 1733.2 1575.6 1739.9 1573.9 1743.3 C1572.2 1746.6 1565.2 1758 1564 1760" stroke-width="1.48"/><path class="l" d="M1500 1728.5 L1529.6 1733.4" stroke-width="1.22"/><path class="l" d="M1573.9 1743.3 L1647.8 1760" stroke-width="1.22"/><path class="l" d="M1500 1748.2 L1532 1753.1" stroke-width="1.22"/><path class="l" d="M1721.7 1760 L1724.1 1751.9 L1766 1749.4 L1768.5 1760" stroke-width="1.48"/><path class="l" d="M1736.5 1751.9 L1741.4 1740.8 L1767.2 1745.7 L1766 1750.6" stroke-width="1.48"/><path class="l" d="M1849.8 1738.3 L1851 1733.4 L1859.6 1732.2 L1860.8 1737.1 L1854.7 1740.8 Z" stroke-width="1.35"/><path class="l" d="M1880 1505.3 C1885.4 1504.7 1910 1500.4 1926.6 1500.1 C1943.1 1499.8 2009.9 1502.2 2022.2 1502.7 C2034.6 1503.1 2028.1 1501.7 2032.6 1504 C2037.1 1506.2 2055.3 1518.1 2061 1522.1 C2066.8 1526 2069.7 1530 2081.7 1537.6 C2093.8 1545.1 2154.8 1581 2164.5 1586.7" stroke-width="1.89"/><path class="l" d="M1880 1520.8 L1944.7 1511.7 L1952.4 1516.9 L2019.7 1514.3" stroke-width="1.35"/><path class="l" d="M1880 1535 L2019.7 1524.7 L2061 1523.4" stroke-width="1.35"/><path class="l" d="M1880 1537.6 L2061 1531.1" stroke-width="1.22"/><path class="l" d="M1926.6 1500.1 L1944.7 1511.7" stroke-width="1.22"/><path class="l" d="M2011.9 1511.7 L2024.8 1505.3 L2032.6 1504 L2028.7 1525.9 L2022.2 1525.9 L2019.7 1515.6 Z" stroke-width="1.62"/><path class="l" d="M2032.6 1505.3 L2081.7 1537.6" stroke-width="1.35"/><path class="l" d="M2035.2 1523.4 L2071.4 1532.4 L2081.7 1537.6" stroke-width="1.35"/><path class="l" d="M1880 1567.3 L2061 1532.4" stroke-width="1.35"/><ellipse class="l" cx="1948.5" cy="1569.9" rx="24.5" ry="9.5" transform="rotate(9 1948.5 1569.9)" stroke-width="1.76"/><path class="l" d="M1880 1604.8 C1889.1 1606.6 1937.1 1614.8 1957.6 1620.3 C1978.1 1625.9 2042 1646.6 2055.9 1652.7 C2069.7 1658.7 2072 1665.9 2076.6 1672.1 C2081.1 1678.3 2091.6 1698.7 2094.7 1705.7 C2097.7 1712.6 2101.2 1725.5 2102.4 1731.5 C2103.6 1737.6 2104.7 1754.4 2105 1757.4" stroke-width="1.48"/><path class="l" d="M1880 1607.9 C1889.1 1609.7 1937.7 1618 1957.6 1623.4 C1977.5 1628.9 2037.4 1648.5 2050.7 1654.5 C2064 1660.5 2066.9 1668.5 2071.4 1674.7 C2075.9 1680.8 2086.5 1700.3 2089.5 1707 C2092.5 1713.6 2096 1725.7 2097.2 1731.5 C2098.4 1737.4 2099.5 1754.4 2099.8 1757.4" stroke-width="1.35"/><path class="l" d="M2055.9 1653.4 L1967.9 1700.5" stroke-width="1.22"/><path class="l" d="M2053.3 1656.6 L1965.3 1703.1 L1880 1744.5" stroke-width="1.22"/><path class="l" d="M1955 1705.7 L1957.6 1682.4 L1965.3 1677.2 L1970.5 1679.8 L1967.9 1705.7" stroke-width="1.62"/><path class="l" d="M1936.9 1703.1 L1980.9 1704.4" stroke-width="2.70"/><path class="l" d="M1956.3 1708.3 L1960.2 1716" stroke-width="2.70"/><path class="l" d="M2036.5 1615.2 L2042.9 1591.9 L2071.4 1590.6 L2076.6 1576.4 L2077.8 1591.9 L2097.2 1593.2 L2092.1 1622.9 L2066.2 1621.6 L2061 1629.4 L2058.4 1626.8 L2062.3 1620.3 L2036.5 1616.5 Z" stroke-width="1.62"/><path class="l" d="M2071.4 1590.6 L2061 1626.8" stroke-width="1.35"/><path class="l" d="M2076.6 1590.6 L2064.9 1625.5" stroke-width="1.35"/><path class="l" d="M2097.2 1600.9 L2154.1 1589.3 L2164.5 1588" stroke-width="1.35"/><path class="l" d="M2061 1756.1 L2094.7 1729" stroke-width="1.35"/><path class="w" d="M1178.8 1812.4 C1179.8 1807.8 1184.1 1803.4 1189.1 1802.6 C1194.2 1801.8 1203.5 1803.8 1212.4 1807.2 C1221.3 1810.7 1237.8 1817.2 1248.6 1825.3 C1259.5 1833.5 1274.7 1849.9 1284.8 1861.6 C1294.9 1873.2 1309.5 1891.7 1315.9 1902.9 C1322.3 1914.2 1326.3 1929.5 1327.5 1936.6 C1328.7 1943.6 1326.9 1947.3 1323.6 1950 C1320.3 1952.7 1312.9 1956.3 1305.5 1954.7 C1298.1 1953 1284.6 1945.7 1274.5 1939.1 C1264.4 1932.5 1248.7 1921.2 1238.3 1910.7 C1227.8 1900.2 1213 1880.9 1204.7 1869.3 C1196.3 1857.7 1186.6 1841.6 1182.7 1833.1 C1178.8 1824.6 1177.8 1817 1178.8 1812.4 Z" stroke-width="2.97"/><path class="l" d="M1184 1813.7 C1184.9 1812.8 1188.3 1806.3 1191.7 1805.9 C1195.2 1805.6 1207.1 1807.6 1213.7 1810.3 C1220.3 1813.1 1240.5 1822.9 1248.6 1829.2 C1256.8 1835.6 1276 1855.8 1283.5 1864.7 C1291.1 1873.5 1308.7 1896.6 1313.3 1905 C1317.9 1913.4 1322.3 1931.7 1323.1 1936.6 C1323.9 1941.4 1320.1 1945.7 1319.7 1946.9" stroke-width="1.22"/><path class="l" d="M1190.4 1798.2 C1192.7 1795.8 1205.8 1780.2 1209.8 1777.5 C1213.9 1774.8 1223.5 1775.2 1225.3 1774.9" stroke-width="1.35"/><path class="l" d="M1292.6 1817.6 C1296.5 1820.6 1320.2 1837.4 1326.2 1843.4 C1332.2 1849.5 1341.1 1863.3 1344.3 1869.3 C1347.5 1875.3 1352.2 1889.1 1353.4 1895.2 C1354.6 1901.2 1355.7 1916.2 1354.7 1921 C1353.6 1925.9 1347.5 1933.5 1344.3 1936.6 C1341.1 1939.6 1329.5 1945.7 1327.5 1946.9" stroke-width="1.48"/><path class="l" d="M1295.2 1817.6 C1299.4 1820.3 1325 1834.8 1331.4 1840.9 C1337.7 1846.9 1346.5 1863 1349.5 1869.3 C1352.5 1875.6 1356.2 1889.1 1357.2 1895.2 C1358.3 1901.2 1358.4 1918 1358.5 1921" stroke-width="1.08"/><path class="l" d="M1215 1808.5 C1216.2 1810.5 1221.4 1820.1 1225.3 1825.3 C1229.3 1830.6 1242.9 1847.8 1248.6 1853.8 C1254.4 1859.8 1266 1869.5 1274.5 1877.1 C1282.9 1884.6 1315.6 1913.6 1321 1918.4" stroke-width="1.22"/><path class="l" d="M1243.4 1825.3 C1243.7 1827.5 1246.3 1840.4 1246 1843.4 C1245.7 1846.5 1241.5 1850.3 1240.9 1851.2" stroke-width="1.22"/><path class="l" d="M1271.9 1884.8 L1295.2 1877.1" stroke-width="1.22"/><path class="l" d="M1274.5 1890 L1295.2 1880.9" stroke-width="1.22"/><path class="l" d="M1284.8 1866.7 L1271.9 1884.8" stroke-width="1.22"/><path class="l" d="M1336.6 1940.4 C1339.3 1940.9 1355.6 1943.9 1359.8 1944.3 C1364 1944.8 1368.2 1946.4 1372.8 1944.3 C1377.3 1942.2 1392.6 1930.1 1398.6 1926.2 C1404.7 1922.3 1415.4 1914.3 1424.5 1910.7 C1433.5 1907.1 1468.7 1897.3 1476.2 1895.2 C1483.7 1893.1 1484.9 1896.5 1489.1 1892.6 C1493.4 1888.7 1506.1 1868.8 1512.4 1861.6 C1518.7 1854.3 1537.9 1835.3 1543.4 1830.5 C1549 1825.7 1558.1 1821.4 1560 1820.2" stroke-width="1.89"/><path class="l" d="M1398.6 1853.8 C1399.8 1854.4 1405.3 1858.2 1409 1859 C1412.6 1859.7 1423.9 1862.1 1429.7 1860.3 C1435.4 1858.4 1453.3 1846.9 1458.1 1843.4 C1462.9 1840 1468.6 1836.6 1471 1830.5 C1473.4 1824.5 1477.3 1799.9 1478.8 1791.7 C1480.3 1783.6 1482.5 1765.8 1484 1760.7 C1485.5 1755.6 1489 1749.9 1491.7 1747.8 C1494.4 1745.6 1505.4 1743.2 1507.2 1742.6" stroke-width="1.89"/><path class="l" d="M1398.6 1856.9 C1399.8 1857.5 1405.3 1861.3 1409 1862.1 C1412.6 1862.8 1423.7 1865.2 1429.7 1863.4 C1435.6 1861.5 1455 1849.7 1460.2 1846 C1465.4 1842.4 1471.6 1838 1474.1 1831.8 C1476.7 1825.6 1480.4 1801.2 1481.9 1793 C1483.4 1784.9 1485.6 1767 1487.1 1762 C1488.6 1757 1492.2 1752.2 1494.8 1750.3 C1497.5 1748.4 1508.1 1746.2 1509.8 1745.7" stroke-width="1.35"/><path class="l" d="M1398.6 1860.3 C1399.8 1860.9 1405.2 1864.7 1409 1865.4 C1412.7 1866.1 1424.7 1868.2 1430.9 1866.2 C1437.2 1864.2 1457.4 1852 1462.8 1848.1 C1468.1 1844.2 1474.1 1839.4 1476.7 1833.1 C1479.3 1826.8 1483.4 1802.5 1485 1794.3 C1486.6 1786.2 1488.7 1768 1490.2 1763.3 C1491.7 1758.5 1495.3 1755.1 1497.9 1753.4 C1500.5 1751.8 1510.7 1749.8 1512.4 1749.3" stroke-width="1.35"/><path class="l" d="M1398.6 1871.9 C1402.5 1871.9 1424.7 1873.7 1432.2 1871.9 C1439.8 1870.1 1458.1 1860.3 1463.3 1856.4 C1468.4 1852.5 1473.8 1843.7 1476.2 1838.3 C1478.6 1832.8 1481.9 1816.5 1484 1809.8 C1486.1 1803.2 1491.6 1785.9 1494.3 1781.4 C1497 1776.9 1499.6 1772.1 1507.2 1771 C1514.9 1770 1553.8 1772.2 1560 1772.3" stroke-width="1.35"/><path class="l" d="M1341.7 1765.9 C1342.3 1765 1344.5 1759.5 1346.9 1758.1 C1349.3 1756.7 1357.6 1754.8 1362.4 1754.2 C1367.2 1753.6 1385.3 1753.1 1388.3 1752.9" stroke-width="1.35"/><path class="l" d="M1331.4 1807.2 L1344.3 1765.9" stroke-width="1.35"/><path class="l" d="M1336.6 1809.8 L1349.5 1765.9" stroke-width="1.08"/><path class="l" d="M1359.8 1822.8 C1361.3 1818.5 1363.7 1790.8 1372.8 1786.6 C1381.8 1782.3 1428.7 1785.6 1437.4 1786.6 C1446.2 1787.5 1446.9 1789.2 1447.8 1794.3 C1448.7 1799.4 1446.7 1824.2 1445.2 1830.5 C1443.7 1836.9 1436 1846.5 1434.8 1848.6" stroke-width="1.48"/><path class="l" d="M1372.8 1786.6 L1424.5 1809.8 L1432.2 1817.6 L1429.7 1843.4" stroke-width="1.35"/><path class="l" d="M1385.7 1786.6 L1398.6 1750.3 L1402.5 1751.6 L1388.3 1789.1 Z" stroke-width="1.76"/><path class="l" d="M1406.4 1791.7 L1421.9 1755.5 L1425.8 1756.8 L1410.3 1793 Z" stroke-width="1.76"/><path class="l" d="M1421.9 1773.6 C1423.7 1772.1 1432.6 1762.5 1437.4 1760.7 C1442.2 1758.9 1458.7 1757.5 1463.3 1758.1 C1467.8 1758.7 1475 1761.9 1476.2 1765.9 C1477.4 1769.8 1474.2 1782.7 1473.6 1791.7 C1473 1800.8 1471.3 1837.4 1471 1843.4" stroke-width="1.48"/><path class="l" d="M1445.2 1763.3 L1440 1817.6 L1432.2 1859" stroke-width="1.22"/><path class="l" d="M1452.9 1762 L1447.8 1817.6 L1440 1859" stroke-width="1.22"/><path class="l" d="M1186.6 1750.3 C1186.7 1754 1186.9 1777.5 1187.8 1781.4 C1188.7 1785.3 1193.6 1786.1 1194.3 1784 C1195.1 1781.9 1195.1 1767.2 1194.3 1763.3 C1193.6 1759.4 1188.6 1751.9 1187.8 1750.3" stroke-width="1.35"/><path class="l" d="M1383.1 1895.2 C1383.4 1896.7 1384.5 1905.7 1385.7 1908.1 C1386.9 1910.5 1391.9 1915.6 1393.4 1915.9 C1395 1916.2 1398 1913.1 1398.6 1910.7 C1399.2 1908.3 1399.8 1897.3 1398.6 1895.2 C1397.4 1893.1 1389.5 1892.9 1388.3 1892.6" stroke-width="1.35"/><path class="l" d="M1336.6 1941.7 L1357.2 1941.7 L1372.8 1936.6" stroke-width="1.22"/><path class="l" d="M1401.2 1921 C1403.9 1917.1 1419.4 1892.2 1424.5 1887.4 C1429.6 1882.6 1440.3 1881.8 1445.2 1879.7 C1450 1877.5 1461.9 1868.7 1465.9 1869.3 C1469.8 1869.9 1476.1 1882.1 1478.8 1884.8 C1481.5 1887.5 1487.9 1891.7 1489.1 1892.6" stroke-width="1.22"/><path class="l" d="M1398.6 1936.6 L1424.5 1895.2" stroke-width="1.22"/><path class="l" d="M1502.1 1773.6 C1505.1 1773.3 1523.1 1769.5 1527.9 1771 C1532.8 1772.5 1541 1781.1 1543.4 1786.6 C1545.9 1792 1547.7 1810.9 1548.6 1817.6 C1549.5 1824.2 1549.9 1839.8 1551.2 1843.4 C1552.5 1847.1 1559 1848 1560 1848.6" stroke-width="1.35"/><path class="l" d="M1486.5 1812.4 L1560 1809.8" stroke-width="1.22"/><path class="l" d="M1481.4 1755.5 C1483.8 1754.2 1492.9 1744.5 1502.1 1743.9 C1511.2 1743.3 1553.2 1749.6 1560 1750.3" stroke-width="1.35"/><path class="l" d="M1486.5 1791.7 C1487.8 1790.2 1488.3 1780.3 1496.9 1778.8 C1505.5 1777.3 1552.6 1778.8 1560 1778.8" stroke-width="1.35"/><path class="l" d="M1540 1754.2 C1549.1 1757.4 1602.5 1775.2 1617.6 1781.4 C1632.7 1787.6 1658.7 1802.4 1669.3 1807.2 C1679.9 1812.1 1700.6 1820.2 1708.1 1822.8 C1715.6 1825.3 1723.4 1827.9 1734 1829.2 C1744.5 1830.6 1783.5 1832.7 1798.6 1834.4 C1813.7 1836.1 1853.9 1841.2 1863.3 1843.4 C1872.6 1845.7 1875.8 1850.8 1878.8 1853.8 C1881.8 1856.8 1887.6 1863.9 1889.1 1869.3 C1890.6 1874.7 1891.1 1894.3 1891.7 1900.3 C1892.3 1906.4 1892.5 1918 1894.3 1921 C1896.1 1924.1 1899.6 1922.6 1907.2 1926.2 C1914.9 1929.8 1953.8 1949 1960 1952.1" stroke-width="1.76"/><path class="l" d="M1540 1756.8 C1549.1 1760 1602.5 1777.8 1617.6 1784 C1632.7 1790.2 1658.7 1805 1669.3 1809.8 C1679.9 1814.7 1700.6 1822.8 1708.1 1825.3 C1715.6 1827.9 1723.4 1830.5 1734 1831.8 C1744.5 1833.2 1783.5 1835.3 1798.6 1837 C1813.7 1838.6 1854.2 1843.8 1863.3 1846 C1872.3 1848.3 1873.5 1853.4 1876.2 1856.4 C1878.9 1859.4 1885 1866.5 1886.5 1871.9 C1888.1 1877.3 1888.5 1896.9 1889.1 1902.9 C1889.7 1909 1889.9 1920.6 1891.7 1923.6 C1893.5 1926.6 1896.7 1925.2 1904.7 1928.8 C1912.6 1932.4 1953.5 1951.6 1960 1954.7" stroke-width="1.22"/><path class="l" d="M1540 1759.4 C1549.1 1762.6 1602.5 1780.4 1617.6 1786.6 C1632.7 1792.7 1658.7 1807.6 1669.3 1812.4 C1679.9 1817.2 1700.6 1825.4 1708.1 1827.9 C1715.6 1830.5 1723.4 1833 1734 1834.4 C1744.5 1835.8 1783.5 1837.9 1798.6 1839.6 C1813.7 1841.2 1854.5 1846.4 1863.3 1848.6 C1872 1850.9 1871.2 1855.9 1873.6 1859 C1876 1862 1882.5 1869.1 1884 1874.5 C1885.5 1879.9 1885.9 1899.5 1886.5 1905.5 C1887.2 1911.6 1887.3 1923.2 1889.1 1926.2 C1890.9 1929.2 1893.8 1927.8 1902.1 1931.4 C1910.3 1935 1953.2 1954.2 1960 1957.2" stroke-width="1.48"/><path class="l" d="M1540 1776.2 C1549.1 1778.9 1602.5 1793.7 1617.6 1799.5 C1632.7 1805.2 1657.2 1820.2 1669.3 1825.3 C1681.4 1830.5 1705.9 1840.1 1721 1843.4 C1736.1 1846.8 1782.6 1851.4 1798.6 1853.8 C1814.6 1856.2 1849.4 1861.4 1858.1 1864.1 C1866.9 1866.9 1871.5 1870.4 1873.6 1877.1 C1875.7 1883.7 1874.7 1914.1 1876.2 1921 C1877.7 1928 1876.8 1931.1 1886.5 1936.6 C1896.3 1942 1951.4 1964 1960 1967.6" stroke-width="1.48"/><path class="l" d="M1540 1778.8 C1549.1 1781.5 1602.5 1796.3 1617.6 1802.1 C1632.7 1807.8 1657.2 1822.8 1669.3 1827.9 C1681.4 1833.1 1705.9 1842.7 1721 1846 C1736.1 1849.4 1782.6 1854 1798.6 1856.4 C1814.6 1858.8 1849.7 1864 1858.1 1866.7 C1866.5 1869.4 1869.2 1873 1871 1879.7 C1872.8 1886.3 1872.1 1916.7 1873.6 1923.6 C1875.1 1930.6 1873.9 1933.7 1884 1939.1 C1894 1944.6 1951.1 1966.5 1960 1970.2" stroke-width="1.22"/><path class="l" d="M1550.3 1825.3 C1550.9 1826.9 1553.7 1836.2 1555.5 1838.3 C1557.3 1840.4 1561.3 1842.5 1565.9 1843.4 C1570.4 1844.4 1588.3 1845.4 1594.3 1846 C1600.3 1846.6 1611.9 1847.4 1617.6 1848.6 C1623.3 1849.8 1639.8 1854.6 1643.4 1856.4 C1647.1 1858.2 1647.1 1862.9 1648.6 1864.1 C1650.1 1865.3 1653.7 1866.1 1656.4 1866.7 C1659.1 1867.3 1668.9 1867.8 1671.9 1869.3 C1674.9 1870.8 1680.1 1876.6 1682.2 1879.7 C1684.4 1882.7 1687.9 1892.5 1690 1895.2 C1692.1 1897.9 1691.3 1897.8 1700.3 1902.9 C1709.4 1908.1 1758.8 1936.4 1767.6 1939.1 C1776.3 1941.9 1772.9 1927.1 1775.3 1926.2 C1777.8 1925.3 1785.9 1929 1788.3 1931.4 C1790.7 1933.8 1794.5 1943.6 1796 1946.9 C1797.5 1950.2 1796.1 1955 1801.2 1959.8 C1806.3 1964.7 1833.4 1984.7 1840 1988.3 C1846.6 1991.9 1851.5 1989.7 1858.1 1990.9 C1864.7 1992.1 1888.7 1996.5 1896.9 1998.6 C1905 2000.7 1920.6 2007.2 1927.9 2009 C1935.3 2010.8 1956.3 2013.5 1960 2014.1" stroke-width="1.89"/><path class="l" d="M1643.4 1856.4 C1643.1 1858.8 1640.3 1874.2 1640.9 1877.1 C1641.5 1879.9 1645.9 1880.6 1648.6 1880.9 C1651.3 1881.2 1661.7 1881 1664.1 1879.7 C1666.6 1878.3 1668.7 1870.5 1669.3 1869.3" stroke-width="1.35"/><path class="l" d="M1695.2 1895.2 L1705.5 1900.3 L1767.6 1934" stroke-width="1.22"/><path class="l" d="M1801.2 1954.7 L1811.5 1954.7 L1840 1975.3 L1845.2 1988.3" stroke-width="1.22"/><path class="l" d="M1563.3 1752.9 C1564.2 1751.7 1562.6 1742.3 1571 1742.6 C1579.5 1742.9 1624.5 1752.5 1635.7 1755.5 C1646.9 1758.5 1663.1 1766.9 1666.7 1768.4" stroke-width="1.35"/><path class="l" d="M1664.1 1799.5 C1665 1795.9 1669.5 1772.7 1671.9 1768.4 C1674.3 1764.2 1680.9 1763.7 1684.8 1763.3 C1688.7 1762.8 1702.2 1763.1 1705.5 1764.6 C1708.8 1766.1 1713.3 1769.7 1713.3 1776.2 C1713.3 1782.7 1706.4 1815 1705.5 1820.2" stroke-width="1.48"/><path class="l" d="M1669.3 1802.1 C1670.1 1798.4 1673.7 1775.3 1675.8 1771 C1677.9 1766.8 1683.9 1766.2 1687.4 1765.9 C1690.9 1765.6 1703.4 1768.1 1705.5 1768.4" stroke-width="1.08"/><path class="l" d="M1798.6 1833.1 C1799.5 1826.5 1804 1783.4 1806.4 1776.2 C1808.8 1769 1814.8 1771 1819.3 1771 C1823.8 1771 1841.5 1774.1 1845.2 1776.2 C1848.8 1778.3 1850.6 1781.9 1850.3 1789.1 C1850 1796.4 1843.5 1832.5 1842.6 1838.3" stroke-width="1.48"/><path class="l" d="M1809 1791.7 C1809.6 1790.2 1812.3 1780.8 1814.1 1778.8 C1815.9 1776.8 1820.6 1774.6 1824.5 1774.9 C1828.4 1775.2 1845 1780.6 1847.8 1781.4" stroke-width="1.08"/><path class="l" d="M1625.3 1755.5 L1609.8 1848.6" stroke-width="1.15"/><path class="l" d="M1633.1 1755.5 L1617.6 1851.2" stroke-width="1.15"/><path class="l" d="M1664.1 1799.5 L1643.4 1861.6" stroke-width="1.15"/><path class="l" d="M1684.8 1817.6 L1680.9 1879.7" stroke-width="1.15"/><path class="l" d="M1700.3 1825.3 L1692.6 1895.2" stroke-width="1.15"/><path class="l" d="M1710.7 1825.3 L1700.3 1897.8" stroke-width="1.15"/><path class="l" d="M1721 1830.5 L1708.1 1900.3" stroke-width="1.15"/><path class="l" d="M1736.6 1833.1 L1721 1908.1" stroke-width="1.15"/><path class="l" d="M1793.4 1859 L1772.8 1926.2" stroke-width="1.15"/><path class="l" d="M1819.3 1861.6 L1798.6 1954.7" stroke-width="1.15"/><path class="l" d="M1829.7 1861.6 L1809 1957.2" stroke-width="1.15"/><path class="l" d="M1845.2 1843.4 L1840 1972.8" stroke-width="1.15"/><path class="l" d="M1863.3 1895.2 L1858.1 1988.3" stroke-width="1.15"/><path class="l" d="M1886.5 1784 L1876.2 1853.8" stroke-width="1.15"/><path class="l" d="M1902.1 1791.7 L1896.9 1921" stroke-width="1.15"/><path class="l" d="M1915 1825.3 L1907.2 1998.6" stroke-width="1.15"/><path class="l" d="M1927.9 1825.3 L1917.6 2001.2" stroke-width="1.15"/><path class="l" d="M1938.3 1825.3 L1927.9 2003.8" stroke-width="1.15"/><path class="l" d="M1951.2 1825.3 L1943.4 2006.4" stroke-width="1.15"/><path class="l" d="M1809 1835.7 L1798.6 1859" stroke-width="1.15"/><path class="l" d="M1837.4 1838.3 L1829.7 1864.1" stroke-width="1.15"/><path class="l" d="M1558.1 1786.6 L1550.3 1825.3" stroke-width="1.15"/><path class="l" d="M1552.9 1804.7 L1555.5 1838.3" stroke-width="1.15"/><path class="l" d="M1718.4 1786.6 C1719.4 1782.6 1722.3 1755.9 1726.2 1752.9 C1730.1 1749.9 1749.7 1756.6 1752.1 1760.7 C1754.5 1764.8 1747.5 1784.7 1746.9 1787.8" stroke-width="1.62"/><path class="l" d="M1736.6 1740 C1736.9 1740.3 1735.5 1741.4 1739.1 1742.6 C1742.8 1743.8 1764.9 1746.7 1767.6 1750.3 C1770.3 1754 1764.2 1770.6 1762.4 1773.6 C1760.6 1776.6 1753.3 1775.9 1752.1 1776.2" stroke-width="1.62"/><path class="l" d="M1721 1754.2 L1752.1 1762" stroke-width="2.70"/><path class="l" d="M1739.1 1743.1 L1767.6 1750.9" stroke-width="2.70"/><path class="l" d="M1876.2 1771 L1891.7 1765.9 L1902.1 1776.2 L1935.7 1791.7 L1938.3 1799.5 L1907.2 1807.2 L1909.8 1830.5 L1951.2 1820.2 L1960 1817.6" stroke-width="1.48"/><path class="l" d="M1736.6 1802.1 L1811.5 1799.5" stroke-width="1.22"/><path class="l" d="M1736.6 1789.1 L1806.4 1786.6" stroke-width="1.22"/><path class="l" d="M1850.3 1796.9 L1896.9 1795.6" stroke-width="1.22"/><path class="l" d="M1710.7 1778.8 L1721 1791.7 L1736.6 1794.3 L1736.6 1802.1 L1726.2 1803.4" stroke-width="1.35"/><path class="l" d="M1938.3 1967.6 L1948.6 1988.3 L1960 1993.4" stroke-width="1.35"/><path class="l" d="M1927.9 2009 L1933.1 2050.3" stroke-width="1.35"/><path class="l" d="M1930 1938.2 C1931.6 1938.8 1924.5 1933.5 1943.7 1942.8 C1962.8 1952.1 2076.5 2007.6 2094 2018 C2111.6 2028.3 2093 2029.5 2094 2031.6 C2095.1 2033.8 2091.7 2038.9 2103.2 2036.2 C2114.6 2033.5 2181.7 2012 2192 2008.9" stroke-width="1.89"/><path class="l" d="M1930 1954.2 C1948.6 1962.7 2069.8 2018.2 2089.5 2027.5 C2109.2 2036.8 2087 2035.8 2099.1 2033.9 C2111.2 2032.1 2182.2 2014.2 2193.2 2011.6" stroke-width="1.35"/><path class="l" d="M1930 1957.6 C1948.7 1966.2 2070.7 2021.7 2090.6 2031.2 C2110.6 2040.6 2088.8 2040.4 2100.9 2038.5 C2113 2036.5 2183.4 2017.3 2194.3 2014.6" stroke-width="1.35"/><path class="l" d="M1943.7 1942.8 L1975.6 1822 L1991.5 1815.2 L1994.9 1828.9" stroke-width="1.62"/><path class="l" d="M1939.1 1935.9 L1971 1824.3" stroke-width="1.22"/><path class="l" d="M1948.2 1943.9 L1977.8 1824.3" stroke-width="1.22"/><path class="l" d="M1934.6 1979.2 L1952.8 1992.9 L1964.2 2008.9 L1968.7 2024.8 L1971 2090.9 L2016.6 2106.8 L2048.5 2068.1 L2057.6 2070.4 L2055.3 2081.8 L2075.8 2088.6 L2103.2 2084 L2123.7 2090.9 L2146.5 2084 L2155.6 2059 L2173.8 2018 L2192 2008.9 L2212.5 1926.8 L2208 1899.5 L2187.5 1869.9 L2153.3 1881.3 L2139.6 1894.9" stroke-width="1.89"/><path class="l" d="M2139.6 1894.9 L2178.3 1931.4 L2185.2 1913.2 L2210.2 1899.5" stroke-width="1.62"/><path class="l" d="M2178.3 1931.4 L2171.5 2018" stroke-width="1.35"/><path class="l" d="M2169.2 1933.7 L2153.3 2027.1" stroke-width="1.22"/><path class="l" d="M2148.7 1888.1 L2180.6 1917.7" stroke-width="1.35"/><circle class="l" cx="2188.6" cy="1891.5" r="8.5" stroke-width="2.16"/><circle class="l" cx="2188.6" cy="1891.5" r="4" stroke-width="1.35"/><path class="l" d="M2037.1 1986.1 L2057.6 1885.8" stroke-width="1.22"/><path class="l" d="M2043.9 1988.3 L2064.4 1885.8" stroke-width="1.22"/><path class="l" d="M2057.6 1992.9 L2075.8 1888.1" stroke-width="1.22"/><path class="l" d="M2071.3 1997.5 L2089.5 1890.4" stroke-width="1.22"/><path class="l" d="M2021.1 2063.5 L2041.6 1997.5" stroke-width="1.22"/><path class="l" d="M2030.3 2065.8 L2048.5 2002" stroke-width="1.22"/><path class="l" d="M2057.6 2077.2 L2075.8 2013.4" stroke-width="1.22"/><path class="l" d="M2066.7 2081.8 L2084.9 2018" stroke-width="1.22"/><path class="l" d="M2103.2 2036.2 L2098.6 2081.8" stroke-width="1.22"/><path class="l" d="M1991.5 2047.6 L1975.6 2104.5" stroke-width="1.22"/><path class="l" d="M1982.4 2045.3 L1971 2090.9" stroke-width="1.22"/><path class="l" d="M1991.5 2047.6 L2043.9 2063.5 L2018.9 2104.5" stroke-width="1.48"/><path class="l" d="M1975.6 2077.2 L2021.1 2093.2" stroke-width="2.43"/><path class="l" d="M1939.1 2033.9 L1966.5 2043" stroke-width="2.43"/><path class="l" d="M1936.8 1990.6 L1943.7 2036.2 L1939.1 2040.8" stroke-width="1.22"/><path class="l" d="M1987 1983.8 C1988.3 1982.3 1993.6 1979 1998.4 1980.4 C2003.1 1981.7 2024.5 1992.4 2028 1995.2 C2031.4 1998 2029.8 2003 2028 2004.3 C2026.1 2005.6 2016.8 2007.9 2012 2006.6 C2007.2 2005.2 1989.9 1995.6 1987 1992.9 C1984 1990.2 1985.6 1985.3 1987 1983.8 Z" stroke-width="1.62"/><path class="l" d="M1993.8 1988.3 L2021.1 1999.7" stroke-width="2.16"/><path class="l" d="M2119.1 2054.4 L2135.1 2059 L2130.5 2086.3" stroke-width="1.48"/><path class="l" d="M2141.9 2074.9 L2148.7 2059 L2155.6 2056.7 L2153.3 2077.2" stroke-width="2.16"/><path class="l" d="M1975.6 1844.8 C1980.9 1842.1 2007.3 1829.7 2021.1 1822 C2035 1814.3 2083.9 1784 2094 1778.7 C2104.1 1773.4 2105.9 1775.4 2107.7 1776.5 C2109.6 1777.5 2112.1 1777.2 2110 1787.8 C2107.9 1798.5 2091.9 1858.3 2089.5 1867.6" stroke-width="1.48"/><path class="l" d="M1993.8 1847.1 L2066.7 1819.7 L2107.7 1785.6" stroke-width="1.22"/><path class="l" d="M2087.2 1767.3 C2095.5 1766.8 2147.5 1764.9 2157.8 1762.8 C2168.2 1760.7 2170.8 1751.2 2176.1 1749.1 C2181.4 1747 2196.5 1744.3 2203.4 1744.6 C2210.3 1744.8 2231.9 1746.6 2235.3 1751.4 C2238.8 1756.2 2235.4 1780.5 2233 1785.6 C2230.6 1790.6 2216.9 1793.6 2214.8 1794.7" stroke-width="1.48"/><path class="l" d="M2203.4 1744.6 L2201.1 1797" stroke-width="1.22"/><path class="l" d="M2100.9 1867.6 C2102.2 1863.3 2108.3 1838 2112.3 1831.1 C2116.3 1824.2 2128.4 1812.3 2135.1 1808.4 C2141.7 1804.4 2162.6 1798.3 2169.2 1797 C2175.9 1795.6 2189.4 1797 2192 1797" stroke-width="1.62"/><path class="l" d="M2105.4 1853.9 C2107 1850.7 2115.1 1831.6 2119.1 1826.6 C2123.1 1821.5 2137.2 1812.5 2139.6 1810.6" stroke-width="1.22"/><path class="l" d="M2023.4 1867.6 C2025.8 1868.1 2038.9 1870.6 2043.9 1872.1 C2049 1873.7 2060.9 1879.7 2066.7 1881.3 C2072.6 1882.9 2089.3 1885.8 2094 1885.8 C2098.8 1885.8 2104.8 1879.9 2107.7 1881.3 C2110.6 1882.6 2117.8 1895.4 2119.1 1897.2" stroke-width="1.62"/><path class="l" d="M2025.7 1867.6 L2039.4 1876.7 L2057.6 1885.8" stroke-width="1.22"/><ellipse class="l" cx="2057.6" cy="1876.7" rx="14" ry="5" transform="rotate(18 2057.6 1876.7)" stroke-width="2.02"/><path class="l" d="M2087.2 1881.3 L2103.2 1874.4 L2107.7 1885.8 L2094 1890.4 Z" stroke-width="2.16"/><path class="l" d="M2091.8 1917.7 C2093.1 1918.2 2100 1919.9 2103.2 1922.3 C2106.3 1924.7 2117.5 1934.8 2119.1 1938.2 C2120.7 1941.7 2118.2 1949.8 2116.8 1951.9 C2115.5 1954 2110.9 1957.8 2107.7 1956.5 C2104.5 1955.1 2091.6 1942.4 2089.5 1940.5" stroke-width="1.35"/><path class="l" d="M1993.8 1844.8 L1998.4 1858.5 L2021.1 1883.5" stroke-width="1.35"/><path class="l" d="M2009.7 1826.6 C2012.1 1827.6 2027.1 1833.6 2030.3 1835.7 C2033.4 1837.8 2034.4 1843.5 2037.1 1844.8 C2039.7 1846.1 2049.3 1847.6 2053 1847.1 C2056.8 1846.6 2067.1 1841 2069 1840.3" stroke-width="1.22"/><path class="l" d="M2048.5 1840.3 C2049.5 1839.2 2055.2 1832.2 2057.6 1831.1 C2060 1830.1 2067.7 1831.1 2069 1831.1" stroke-width="1.22"/><path class="l" d="M2167 1844.8 L2169.2 1851.6 L2116.8 1869.9" stroke-width="1.35"/><path class="l" d="M2162.4 1828.9 C2163.5 1827.3 2168.3 1817 2171.5 1815.2 C2174.7 1813.3 2187.6 1813.2 2189.7 1812.9" stroke-width="1.22"/><path class="l" d="M2212.5 1808.4 L2235.3 1785.6" stroke-width="1.35"/><path class="l" d="M1930 1826.6 L1971 1819.7" stroke-width="1.22"/><path class="l" d="M1930 1790.1 C1930.8 1790.7 1935.8 1793.4 1936.8 1794.7 C1937.9 1796 1939.9 1800.2 1939.1 1801.5 C1938.3 1802.8 1931.1 1805.5 1930 1806.1" stroke-width="1.35"/><path class="l" d="M1173.6 1697.6 L1162 1707.9 L1409 1852.8 L1424.5 1855.9 L1445.2 1847.6 L1459.4 1835.9 L1473.6 1816.6" stroke-width="1.89"/><path class="l" d="M1159.4 1719.6 L1398.6 1858.4 L1429.7 1859.7 L1460.7 1840.3 L1476.2 1819.1" stroke-width="1.35"/><path class="l" d="M1156 1728.1 L1398.6 1864.9 L1432.2 1863.6 L1464.6 1842.9 L1478.8 1821.7" stroke-width="1.35"/><path class="l" d="M1156.8 1736.9 L1396 1874.7 L1434.8 1868.8 L1468.4 1848.1 L1481.4 1824.3" stroke-width="1.76"/><path class="l" d="M1162 1707.9 C1161.2 1709.4 1156.4 1718.1 1155.5 1720.9 C1154.6 1723.6 1154.1 1729.3 1154.2 1731.2 C1154.4 1733.1 1156.5 1736.2 1156.8 1736.9" stroke-width="1.76"/><path class="l" d="M1176.2 1718.3 L1191.7 1729.9 L1372.8 1826.9 L1409 1842.4" stroke-width="1.35"/><path class="l" d="M1172.3 1717 L1189.1 1731.2" stroke-width="1.22"/><path class="l" d="M1238.3 1713.1 L1344.3 1770" stroke-width="1.22"/><path class="l" d="M1199.5 1702.8 L1233.1 1707.9 L1238.3 1711.8" stroke-width="1.22"/><path class="l" d="M1186.6 1751.9 C1186.4 1754 1185 1766.4 1185.3 1770 C1185.6 1773.6 1188.1 1781.4 1189.1 1782.9 C1190.2 1784.4 1193.6 1783.8 1194.3 1782.9 C1195.1 1782 1195.9 1777.9 1195.6 1775.2 C1195.3 1772.5 1192.2 1761.5 1191.7 1759.7" stroke-width="1.35"/><path class="l" d="M2048.5 1990.6 L2066.7 1888.1" stroke-width="1.08"/><path class="l" d="M2080.4 1999.7 L2098.6 1892.7" stroke-width="1.08"/><path class="l" d="M2089.5 2002 L2105.4 1894.9" stroke-width="1.08"/><path class="l" d="M2021.1 1981.5 L1998.4 2059" stroke-width="1.08"/><path class="l" d="M2012 1979.2 L1989.2 2054.4" stroke-width="1.08"/><path class="l" d="M2182.9 2013.4 L2196.6 1933.7" stroke-width="1.08"/><path class="l" d="M2187.5 2011.1 L2201.1 1935.9" stroke-width="1.08"/><path class="l" d="M1934.6 1940.5 L1934.6 1979.2" stroke-width="1.22"/><path class="l" d="M2016.6 2106.8 L2025.7 2077.2 L2037.1 2068.1 L2048.5 2068.1" stroke-width="1.35"/><path class="l" d="M2171.5 2018 L2157.8 2072.6" stroke-width="1.22"/><path class="l" d="M2164 1586.8 L2174.8 1593.5 L2192.4 1604.4 L2195.1 1611.2 L2196.5 1646.4 L2224.9 1654.5 L2235.8 1670.8 L2241.2 1680.2 L2242.6 1696.5 L2241.2 1699.2 L2233.1 1735.8 L2234.4 1745.3 L2242.6 1739.8 L2269.7 1742.6 L2276.4 1748 L2275.1 1753.4 L2266.9 1754.7 L2261.5 1769.7 L2235.8 1772.4" stroke-width="1.76"/><path class="l" d="M2097.6 1601.7 L2155.9 1587.5 L2164 1586.8" stroke-width="1.35"/><path class="l" d="M2096.3 1608.4 L2155.9 1590.2 L2166.7 1590.2 L2192.4 1605.7" stroke-width="1.22"/><path class="l" d="M2080 1590.8 L2097.6 1590.8 L2099 1593.5 L2090.8 1623.3 L2080 1623.3" stroke-width="1.48"/><path class="l" d="M2094.9 1593.5 L2089.5 1623.3" stroke-width="1.08"/><path class="l" d="M2094.9 1631.5 L2143.7 1607.1 L2150.4 1608.4 L2189.7 1632.2 L2187 1636.9" stroke-width="2.16"/><path class="l" d="M2094.9 1631.5 L2128.8 1646.4 L2185.7 1638.2" stroke-width="1.48"/><path class="l" d="M2128.8 1646.4 L2123.3 1666.7 L2147.7 1670.1" stroke-width="1.48"/><path class="l" d="M2178.9 1673.5 L2184.3 1639.6" stroke-width="1.48"/><path class="l" d="M2143.7 1607.1 L2134.2 1643.7" stroke-width="1.35"/><path class="l" d="M2150.4 1608.4 L2139.6 1643.7" stroke-width="1.35"/><path class="l" d="M2161.3 1630.1 L2164 1631.5 L2150.4 1677.5 L2145 1678.9 L2159.9 1630.1 Z" stroke-width="1.62"/><path class="l" d="M2153.2 1674.8 L2177.5 1674.8 L2191.1 1680.2" stroke-width="1.48"/><path class="l" d="M2188.4 1685.7 C2189.2 1685 2192.1 1682.1 2195.1 1680.2 C2198.1 1678.3 2210.5 1670.8 2214.1 1669.4 C2217.7 1668 2223.8 1667.6 2226.3 1668.1 C2228.8 1668.5 2234 1671.7 2235.8 1673.5 C2237.5 1675.2 2240.4 1680.4 2241.2 1683 C2242 1685.5 2242.4 1693.7 2242.6 1695.1" stroke-width="1.48"/><path class="l" d="M2191.1 1695.1 C2192.3 1694.7 2197.2 1693.5 2201.9 1691.1 C2206.7 1688.7 2228.2 1676.7 2231.7 1674.8" stroke-width="1.35"/><path class="l" d="M2166.7 1739.8 L2187 1687 L2192.4 1680.2" stroke-width="1.48"/><path class="l" d="M2172.1 1739.8 L2188.4 1687" stroke-width="1.22"/><path class="l" d="M2178.9 1741.2 L2195.1 1688.4" stroke-width="1.22"/><path class="l" d="M2187 1741.9 L2201.9 1692.4" stroke-width="1.22"/><path class="l" d="M2192.4 1742.6 L2210 1674.8" stroke-width="1.22"/><path class="l" d="M2203.3 1742.6 L2215.5 1677.5" stroke-width="1.22"/><path class="l" d="M2211.4 1742.6 L2223.6 1672.1" stroke-width="1.22"/><path class="l" d="M2223.6 1743.9 L2234.4 1691.1" stroke-width="1.22"/><path class="l" d="M2234.4 1691.1 L2241.2 1695.1 L2233.1 1735.8" stroke-width="1.35"/><path class="l" d="M2153.2 1676.2 C2153.5 1677 2153.6 1680.9 2155.9 1683 C2158.1 1685 2169.9 1691.6 2172.1 1693.8 C2174.3 1696 2174.7 1700 2174.8 1701.9 C2175 1703.8 2174.3 1705.6 2173.5 1710 C2172.7 1714.5 2168.7 1736.4 2168.1 1739.8" stroke-width="1.48"/><path class="l" d="M2104.4 1712.8 C2105.2 1711.6 2110.4 1708.5 2113.9 1708 C2117.3 1707.5 2130.9 1707.8 2134.2 1708.7 C2137.5 1709.6 2141.2 1713.7 2142.3 1715.5 C2143.4 1717.2 2144 1722 2143.7 1723.6 C2143.4 1725.2 2142.3 1728.7 2139.6 1729 C2136.9 1729.3 2124.4 1727.6 2120.6 1726.3 C2116.8 1725 2109 1719.8 2107.1 1718.2 C2105.2 1716.6 2103.6 1713.9 2104.4 1712.8 Z" stroke-width="1.62"/><path class="l" d="M2108.4 1716.8 C2109.9 1716.5 2117.3 1714.3 2120.6 1714.1 C2124 1714 2134.7 1714.4 2136.9 1715.5 C2139.1 1716.6 2139.3 1722.6 2139.6 1723.6" stroke-width="1.22"/><path class="l" d="M2123.3 1708.7 L2122 1726.3" stroke-width="1.08"/><path class="l" d="M2136.9 1708.7 L2168.1 1693.8" stroke-width="1.22"/><path class="l" d="M2143.7 1722.2 L2173.5 1708.7" stroke-width="1.22"/><path class="l" d="M2131.5 1752 L2145 1739.8 L2168.1 1739.8 L2231.7 1743.9" stroke-width="1.48"/><path class="l" d="M2086.8 1766.9 L2161.3 1765.6 L2174.8 1750.7 L2201.9 1742.6 L2231.7 1749.3" stroke-width="1.76"/><path class="l" d="M2183 1749.3 L2201.9 1760.2 L2234.4 1750.7" stroke-width="1.35"/><path class="l" d="M2237.1 1746.6 C2238.6 1745.8 2245.2 1740 2249.3 1739.8 C2253.4 1739.7 2269.2 1744 2272.4 1745.3 C2275.5 1746.5 2276.7 1749.6 2276.4 1750.7 C2276.1 1751.8 2274.4 1754.7 2269.7 1754.7 C2264.9 1754.7 2239.7 1751.2 2235.8 1750.7" stroke-width="1.48"/><path class="l" d="M2239.8 1749.3 L2253.4 1761.5 L2262.9 1756.1" stroke-width="1.22"/><path class="l" d="M2080 1678.9 C2081.6 1681.6 2091.2 1696.1 2093.5 1701.9 C2095.9 1707.8 2099.1 1722.7 2100.3 1729 C2101.6 1735.3 2103.9 1752.9 2104.4 1756.1" stroke-width="1.35"/><path class="l" d="M2080 1691.1 C2081.3 1693.1 2088.8 1703.5 2090.8 1708.7 C2092.9 1713.9 2096.5 1730.3 2097.6 1735.8 C2098.7 1741.3 2100 1753.7 2100.3 1756.1" stroke-width="1.35"/><path class="l" d="M2080 1742.6 L2101.7 1727.7" stroke-width="1.22"/><path class="l" d="M2088.1 1758.8 C2088.8 1758.2 2092.1 1754.3 2093.5 1753.4 C2095 1752.4 2099.1 1750.4 2100.3 1750.7 C2101.6 1751 2103.9 1755.5 2104.4 1756.1" stroke-width="1.22"/><path class="l" d="M2130.1 1742.6 C2130.9 1741.8 2134.8 1736.4 2136.9 1735.8 C2138.9 1735.2 2146.5 1737 2147.7 1737.1" stroke-width="1.22"/><path class="l" d="M2201.9 1761.5 L2199.2 1800" stroke-width="1.22"/><path class="l" d="M2235.8 1772.4 L2233.1 1785.9 L2230.4 1796.7" stroke-width="1.35"/><path class="l" d="M2210 1796.7 L2215.5 1773.7 L2219.5 1772.4 L2216.8 1796.7" stroke-width="1.62"/><path class="l" d="M1929.1 2007.1 C1929.9 2005 1933 1988.2 1936.5 1988.7 C1939.9 1989.1 1954.7 2006.5 1958.6 2010.8 C1962.5 2015.1 1968.2 2017 1969.7 2025.6 C1971.2 2034.2 1971.3 2077.8 1971.5 2084.7" stroke-width="1.48"/><path class="l" d="M1930.9 2010.8 L1932.8 2047.8 L1967.9 2058.9" stroke-width="1.35"/><path class="l" d="M1940.1 2025.6 L1943.8 2040.4 L1969.7 2047.8" stroke-width="2.16"/><path class="l" d="M2054.7 2062.6 L2054.7 2081 L2087.9 2088.4 L2128.6 2081 L2154.4 2058.9" stroke-width="1.48"/><path class="l" d="M2113.8 2051.5 L2121.2 2055.2 L2113.8 2084.7" stroke-width="1.35"/><path class="l" d="M2139.6 2062.6 L2154.4 2057 L2150.7 2077.3" stroke-width="1.89"/><path d="M1862.6 1737.6 L1929.1 1706.2 L1931 1710.2 L1864.5 1741.6 Z" fill="#555" stroke="#000" stroke-width="0.80"/><path d="M1881 1754.2 L1953 1717.3 L1955 1721.3 L1883 1758.2 Z" fill="#555" stroke="#000" stroke-width="0.80"/><ellipse cx="1855.5" cy="1736" rx="5" ry="3.5" fill="#fff" stroke="#000" stroke-width="1.35"/></g></g>
</svg>
</body></html>
